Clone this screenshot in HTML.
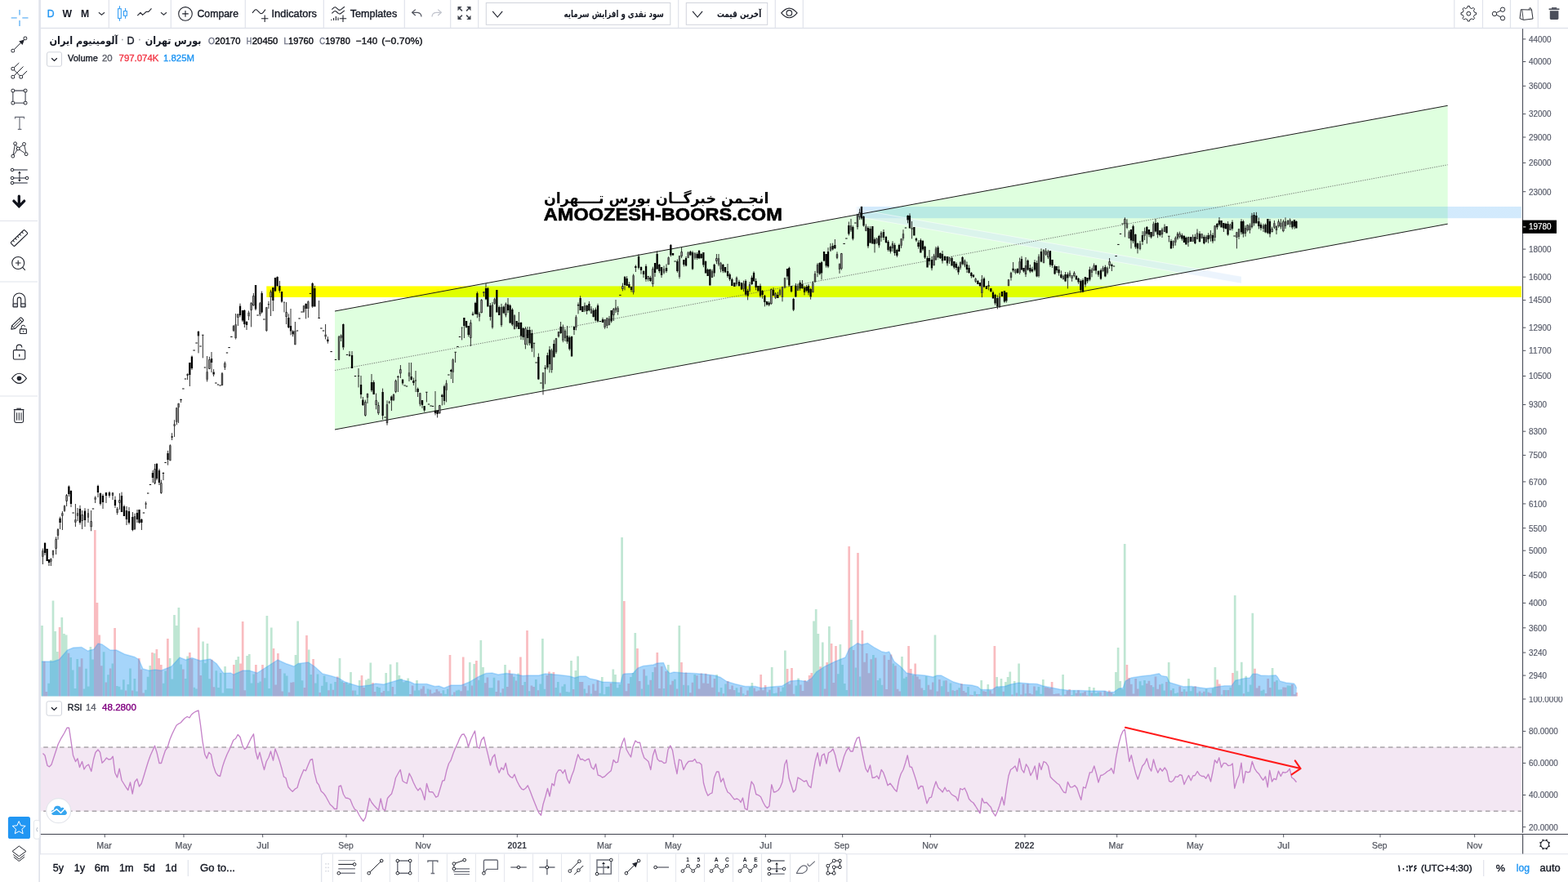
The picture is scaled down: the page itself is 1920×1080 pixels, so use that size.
<!DOCTYPE html>
<html lang="en"><head><meta charset="utf-8"><title>آلومینیوم ایران - Chart</title>
<style>html,body{margin:0;padding:0;background:#fff;overflow:hidden}body{width:1920px;height:1080px;font-family:"Liberation Sans",sans-serif}svg{display:block;will-change:transform}text{font-family:"Liberation Sans",sans-serif}</style></head><body>
<svg width="1920" height="1080" viewBox="0 0 1920 1080">
<rect width="1920" height="1080" fill="#fff"/>
<g id="main-pane">
<rect x="326.3" y="350.4" width="1536.5" height="13.6" fill="#ffff00"/>
<polygon points="410,381 1772.7,129.3 1772.7,274.2 410,526" fill="rgba(0,255,0,0.125)"/>
<defs><linearGradient id="bl" x1="0" x2="1"><stop offset="0" stop-color="rgba(33,150,243,0)"/><stop offset="0.012" stop-color="rgba(33,150,243,0.2)"/><stop offset="1" stop-color="rgba(33,150,243,0.2)"/></linearGradient></defs>
<rect x="1047" y="253" width="815.8" height="14.2" fill="url(#bl)"/>
<polygon points="1056,257.5 1520,338.4 1520,347 1056,266.5" fill="rgba(215,232,250,0.48)"/>
<path d="M1056 257.5L1520 338.4M1056 266.5L1520 347" stroke="rgba(255,255,255,0.55)" stroke-width="1" fill="none"/>
<path d="M410 381L1772.7 129.3M410 526L1772.7 274.2" stroke="#1a1a1a" stroke-width="1.0" fill="none"/>
<path d="M410 453.5L1772.7 201.8" stroke="#5a5a5a" stroke-width="0.8" stroke-dasharray="1.3 1.4" fill="none"/>
<g id="volume"><path d="M50.15 766.0h2.70V852.5h-2.70zM58.25 836.7h2.70V852.5h-2.70zM60.95 808.2h2.70V852.5h-2.70zM63.65 735.5h2.70V852.5h-2.70zM66.35 773.0h2.70V852.5h-2.70zM69.05 798.0h2.70V852.5h-2.70zM74.45 756.0h2.70V852.5h-2.70zM77.15 776.0h2.70V852.5h-2.70zM79.85 777.5h2.70V852.5h-2.70zM85.25 804.9h2.70V852.5h-2.70zM87.95 820.6h2.70V852.5h-2.70zM90.65 843.1h2.70V852.5h-2.70zM93.35 807.0h2.70V852.5h-2.70zM101.45 843.5h2.70V852.5h-2.70zM104.15 818.7h2.70V852.5h-2.70zM106.85 840.5h2.70V852.5h-2.70zM109.55 792.0h2.70V852.5h-2.70zM112.25 807.5h2.70V852.5h-2.70zM125.75 798.3h2.70V852.5h-2.70zM131.15 826.2h2.70V852.5h-2.70zM136.55 812.4h2.70V852.5h-2.70zM141.95 840.1h2.70V852.5h-2.70zM144.65 840.7h2.70V852.5h-2.70zM147.35 844.5h2.70V852.5h-2.70zM150.05 832.3h2.70V852.5h-2.70zM155.45 837.9h2.70V852.5h-2.70zM158.15 818.6h2.70V852.5h-2.70zM163.55 831.1h2.70V852.5h-2.70zM166.25 846.4h2.70V852.5h-2.70zM177.05 844.7h2.70V852.5h-2.70zM179.75 828.7h2.70V852.5h-2.70zM182.45 815.0h2.70V852.5h-2.70zM187.85 800.0h2.70V852.5h-2.70zM198.65 836.7h2.70V852.5h-2.70zM201.35 821.6h2.70V852.5h-2.70zM206.75 806.0h2.70V852.5h-2.70zM209.45 831.4h2.70V852.5h-2.70zM212.15 753.0h2.70V852.5h-2.70zM214.85 766.0h2.70V852.5h-2.70zM217.55 744.0h2.70V852.5h-2.70zM220.25 813.6h2.70V852.5h-2.70zM225.65 831.0h2.70V852.5h-2.70zM228.35 803.5h2.70V852.5h-2.70zM236.45 841.7h2.70V852.5h-2.70zM239.15 843.4h2.70V852.5h-2.70zM247.25 785.5h2.70V852.5h-2.70zM249.95 812.0h2.70V852.5h-2.70zM252.65 788.0h2.70V852.5h-2.70zM255.35 831.3h2.70V852.5h-2.70zM263.45 821.3h2.70V852.5h-2.70zM266.15 841.9h2.70V852.5h-2.70zM268.85 824.0h2.70V852.5h-2.70zM271.55 848.4h2.70V852.5h-2.70zM274.25 816.0h2.70V852.5h-2.70zM276.95 843.0h2.70V852.5h-2.70zM279.65 843.1h2.70V852.5h-2.70zM282.35 843.3h2.70V852.5h-2.70zM287.75 808.0h2.70V852.5h-2.70zM290.45 804.0h2.70V852.5h-2.70zM301.25 803.0h2.70V852.5h-2.70zM303.95 801.0h2.70V852.5h-2.70zM306.65 836.4h2.70V852.5h-2.70zM309.35 825.6h2.70V852.5h-2.70zM314.75 836.2h2.70V852.5h-2.70zM317.45 834.4h2.70V852.5h-2.70zM322.85 830.2h2.70V852.5h-2.70zM325.55 754.0h2.70V852.5h-2.70zM328.25 842.9h2.70V852.5h-2.70zM330.95 768.5h2.70V852.5h-2.70zM347.15 824.4h2.70V852.5h-2.70zM349.85 827.5h2.70V852.5h-2.70zM360.65 802.0h2.70V852.5h-2.70zM363.35 760.5h2.70V852.5h-2.70zM366.05 812.4h2.70V852.5h-2.70zM368.75 833.3h2.70V852.5h-2.70zM376.85 795.5h2.70V852.5h-2.70zM379.55 826.1h2.70V852.5h-2.70zM384.95 836.4h2.70V852.5h-2.70zM387.65 825.6h2.70V852.5h-2.70zM393.05 839.7h2.70V852.5h-2.70zM395.75 827.4h2.70V852.5h-2.70zM398.45 835.2h2.70V852.5h-2.70zM403.85 837.2h2.70V852.5h-2.70zM409.25 834.9h2.70V852.5h-2.70zM414.65 806.0h2.70V852.5h-2.70zM417.35 834.2h2.70V852.5h-2.70zM422.75 835.7h2.70V852.5h-2.70zM425.45 837.7h2.70V852.5h-2.70zM428.15 823.0h2.70V852.5h-2.70zM433.55 845.6h2.70V852.5h-2.70zM436.25 850.8h2.70V852.5h-2.70zM438.95 833.0h2.70V852.5h-2.70zM447.05 832.5h2.70V852.5h-2.70zM449.75 831.0h2.70V852.5h-2.70zM452.45 811.5h2.70V852.5h-2.70zM460.55 841.0h2.70V852.5h-2.70zM463.25 842.0h2.70V852.5h-2.70zM471.35 824.0h2.70V852.5h-2.70zM474.05 846.2h2.70V852.5h-2.70zM476.75 813.5h2.70V852.5h-2.70zM482.15 850.2h2.70V852.5h-2.70zM484.85 811.0h2.70V852.5h-2.70zM487.55 827.0h2.70V852.5h-2.70zM490.25 831.1h2.70V852.5h-2.70zM492.95 835.2h2.70V852.5h-2.70zM495.65 833.8h2.70V852.5h-2.70zM498.35 830.5h2.70V852.5h-2.70zM506.45 845.4h2.70V852.5h-2.70zM509.15 833.0h2.70V852.5h-2.70zM511.85 845.3h2.70V852.5h-2.70zM522.65 843.4h2.70V852.5h-2.70zM541.55 845.3h2.70V852.5h-2.70zM544.25 849.7h2.70V852.5h-2.70zM546.95 843.4h2.70V852.5h-2.70zM552.35 850.8h2.70V852.5h-2.70zM557.75 845.4h2.70V852.5h-2.70zM560.45 844.7h2.70V852.5h-2.70zM571.25 845.6h2.70V852.5h-2.70zM573.95 811.0h2.70V852.5h-2.70zM579.35 813.0h2.70V852.5h-2.70zM584.75 832.8h2.70V852.5h-2.70zM587.45 784.0h2.70V852.5h-2.70zM590.15 817.0h2.70V852.5h-2.70zM598.25 842.3h2.70V852.5h-2.70zM600.95 842.3h2.70V852.5h-2.70zM603.65 829.8h2.70V852.5h-2.70zM611.75 848.2h2.70V852.5h-2.70zM617.15 814.0h2.70V852.5h-2.70zM627.95 828.7h2.70V852.5h-2.70zM633.35 824.4h2.70V852.5h-2.70zM641.45 835.0h2.70V852.5h-2.70zM646.85 846.3h2.70V852.5h-2.70zM654.95 832.1h2.70V852.5h-2.70zM660.35 837.4h2.70V852.5h-2.70zM663.05 782.0h2.70V852.5h-2.70zM665.75 843.8h2.70V852.5h-2.70zM673.85 824.4h2.70V852.5h-2.70zM679.25 842.1h2.70V852.5h-2.70zM681.95 834.9h2.70V852.5h-2.70zM687.35 840.4h2.70V852.5h-2.70zM690.05 837.7h2.70V852.5h-2.70zM692.75 847.0h2.70V852.5h-2.70zM695.45 847.4h2.70V852.5h-2.70zM698.15 809.0h2.70V852.5h-2.70zM703.55 821.0h2.70V852.5h-2.70zM706.25 803.5h2.70V852.5h-2.70zM714.35 843.6h2.70V852.5h-2.70zM722.45 849.6h2.70V852.5h-2.70zM733.25 848.7h2.70V852.5h-2.70zM735.95 829.0h2.70V852.5h-2.70zM738.65 850.3h2.70V852.5h-2.70zM741.35 841.0h2.70V852.5h-2.70zM744.05 840.8h2.70V852.5h-2.70zM749.45 819.5h2.70V852.5h-2.70zM752.15 826.0h2.70V852.5h-2.70zM754.85 842.3h2.70V852.5h-2.70zM757.55 838.0h2.70V852.5h-2.70zM760.25 658.0h2.70V852.5h-2.70zM771.05 828.9h2.70V852.5h-2.70zM773.75 824.1h2.70V852.5h-2.70zM776.45 775.0h2.70V852.5h-2.70zM784.55 843.4h2.70V852.5h-2.70zM789.95 827.6h2.70V852.5h-2.70zM792.65 838.4h2.70V852.5h-2.70zM798.05 822.9h2.70V852.5h-2.70zM811.55 842.9h2.70V852.5h-2.70zM816.95 814.0h2.70V852.5h-2.70zM825.05 831.7h2.70V852.5h-2.70zM830.45 766.0h2.70V852.5h-2.70zM835.85 838.7h2.70V852.5h-2.70zM841.25 839.2h2.70V852.5h-2.70zM849.35 826.1h2.70V852.5h-2.70zM876.35 826.0h2.70V852.5h-2.70zM881.75 841.9h2.70V852.5h-2.70zM887.15 837.6h2.70V852.5h-2.70zM900.65 842.3h2.70V852.5h-2.70zM903.35 848.1h2.70V852.5h-2.70zM908.75 849.2h2.70V852.5h-2.70zM916.85 841.5h2.70V852.5h-2.70zM919.55 836.0h2.70V852.5h-2.70zM938.45 847.6h2.70V852.5h-2.70zM943.85 817.0h2.70V852.5h-2.70zM946.55 849.1h2.70V852.5h-2.70zM949.25 848.6h2.70V852.5h-2.70zM954.65 846.7h2.70V852.5h-2.70zM957.35 841.4h2.70V852.5h-2.70zM960.05 796.5h2.70V852.5h-2.70zM973.55 839.6h2.70V852.5h-2.70zM976.25 830.5h2.70V852.5h-2.70zM995.15 760.5h2.70V852.5h-2.70zM997.85 746.0h2.70V852.5h-2.70zM1000.55 776.0h2.70V852.5h-2.70zM1005.95 786.5h2.70V852.5h-2.70zM1014.05 767.0h2.70V852.5h-2.70zM1024.85 825.2h2.70V852.5h-2.70zM1027.55 789.0h2.70V852.5h-2.70zM1030.25 814.0h2.70V852.5h-2.70zM1032.95 837.0h2.70V852.5h-2.70zM1035.65 845.0h2.70V852.5h-2.70zM1041.05 759.0h2.70V852.5h-2.70zM1046.45 817.4h2.70V852.5h-2.70zM1051.85 828.4h2.70V852.5h-2.70zM1068.05 802.0h2.70V852.5h-2.70zM1073.45 833.0h2.70V852.5h-2.70zM1076.15 830.4h2.70V852.5h-2.70zM1078.85 838.7h2.70V852.5h-2.70zM1092.35 812.4h2.70V852.5h-2.70zM1103.15 804.0h2.70V852.5h-2.70zM1105.85 830.7h2.70V852.5h-2.70zM1108.55 828.8h2.70V852.5h-2.70zM1116.65 826.7h2.70V852.5h-2.70zM1130.15 845.1h2.70V852.5h-2.70zM1132.85 828.0h2.70V852.5h-2.70zM1143.65 777.5h2.70V852.5h-2.70zM1151.75 840.2h2.70V852.5h-2.70zM1154.45 833.5h2.70V852.5h-2.70zM1162.55 836.6h2.70V852.5h-2.70zM1167.95 845.9h2.70V852.5h-2.70zM1173.35 842.2h2.70V852.5h-2.70zM1184.15 841.1h2.70V852.5h-2.70zM1192.25 846.5h2.70V852.5h-2.70zM1197.65 850.0h2.70V852.5h-2.70zM1200.35 833.0h2.70V852.5h-2.70zM1208.45 838.0h2.70V852.5h-2.70zM1219.25 829.0h2.70V852.5h-2.70zM1221.95 841.8h2.70V852.5h-2.70zM1224.65 831.0h2.70V852.5h-2.70zM1230.05 835.0h2.70V852.5h-2.70zM1232.75 829.0h2.70V852.5h-2.70zM1235.45 822.5h2.70V852.5h-2.70zM1240.85 834.0h2.70V852.5h-2.70zM1246.25 812.5h2.70V852.5h-2.70zM1254.35 849.2h2.70V852.5h-2.70zM1267.85 845.5h2.70V852.5h-2.70zM1270.55 841.0h2.70V852.5h-2.70zM1273.25 849.7h2.70V852.5h-2.70zM1275.95 832.0h2.70V852.5h-2.70zM1300.25 826.0h2.70V852.5h-2.70zM1311.05 851.0h2.70V852.5h-2.70zM1313.75 845.2h2.70V852.5h-2.70zM1321.85 848.8h2.70V852.5h-2.70zM1332.65 841.0h2.70V852.5h-2.70zM1338.05 842.0h2.70V852.5h-2.70zM1340.75 848.9h2.70V852.5h-2.70zM1343.45 847.4h2.70V852.5h-2.70zM1354.25 848.1h2.70V852.5h-2.70zM1362.35 850.1h2.70V852.5h-2.70zM1365.05 823.0h2.70V852.5h-2.70zM1367.75 793.0h2.70V852.5h-2.70zM1370.45 834.0h2.70V852.5h-2.70zM1373.15 843.8h2.70V852.5h-2.70zM1375.85 666.0h2.70V852.5h-2.70zM1394.75 834.3h2.70V852.5h-2.70zM1397.45 839.3h2.70V852.5h-2.70zM1400.15 833.1h2.70V852.5h-2.70zM1410.95 841.3h2.70V852.5h-2.70zM1421.75 837.3h2.70V852.5h-2.70zM1424.45 845.6h2.70V852.5h-2.70zM1429.85 811.0h2.70V852.5h-2.70zM1435.25 843.1h2.70V852.5h-2.70zM1437.95 848.9h2.70V852.5h-2.70zM1440.65 848.2h2.70V852.5h-2.70zM1448.75 844.1h2.70V852.5h-2.70zM1454.15 831.0h2.70V852.5h-2.70zM1456.85 846.2h2.70V852.5h-2.70zM1459.55 841.3h2.70V852.5h-2.70zM1464.95 848.4h2.70V852.5h-2.70zM1470.35 848.6h2.70V852.5h-2.70zM1475.75 843.5h2.70V852.5h-2.70zM1483.85 843.0h2.70V852.5h-2.70zM1486.55 817.0h2.70V852.5h-2.70zM1494.65 850.5h2.70V852.5h-2.70zM1500.05 844.9h2.70V852.5h-2.70zM1505.45 841.7h2.70V852.5h-2.70zM1510.85 729.0h2.70V852.5h-2.70zM1513.55 821.5h2.70V852.5h-2.70zM1516.25 838.7h2.70V852.5h-2.70zM1518.95 810.7h2.70V852.5h-2.70zM1524.35 827.7h2.70V852.5h-2.70zM1527.05 847.2h2.70V852.5h-2.70zM1529.75 838.4h2.70V852.5h-2.70zM1532.45 750.7h2.70V852.5h-2.70zM1543.25 845.8h2.70V852.5h-2.70zM1545.95 844.6h2.70V852.5h-2.70zM1556.75 818.0h2.70V852.5h-2.70zM1562.15 833.0h2.70V852.5h-2.70zM1564.85 844.4h2.70V852.5h-2.70zM1567.55 844.3h2.70V852.5h-2.70zM1575.65 839.5h2.70V852.5h-2.70zM1578.35 839.7h2.70V852.5h-2.70z" fill="#bfe6d3"/>
<path d="M52.85 809.7h2.70V852.5h-2.70zM55.55 847.0h2.70V852.5h-2.70zM71.75 768.0h2.70V852.5h-2.70zM82.55 799.7h2.70V852.5h-2.70zM96.05 816.6h2.70V852.5h-2.70zM98.75 806.3h2.70V852.5h-2.70zM114.95 649.0h2.70V852.5h-2.70zM117.65 738.0h2.70V852.5h-2.70zM120.35 777.5h2.70V852.5h-2.70zM123.05 815.2h2.70V852.5h-2.70zM128.45 835.6h2.70V852.5h-2.70zM133.85 818.5h2.70V852.5h-2.70zM139.25 769.0h2.70V852.5h-2.70zM152.75 845.6h2.70V852.5h-2.70zM160.85 845.6h2.70V852.5h-2.70zM168.95 806.0h2.70V852.5h-2.70zM171.65 819.8h2.70V852.5h-2.70zM174.35 848.4h2.70V852.5h-2.70zM185.15 799.0h2.70V852.5h-2.70zM190.55 795.0h2.70V852.5h-2.70zM193.25 806.0h2.70V852.5h-2.70zM195.95 814.0h2.70V852.5h-2.70zM204.05 782.0h2.70V852.5h-2.70zM222.95 819.6h2.70V852.5h-2.70zM231.05 799.0h2.70V852.5h-2.70zM233.75 806.7h2.70V852.5h-2.70zM241.85 768.5h2.70V852.5h-2.70zM244.55 827.1h2.70V852.5h-2.70zM258.05 807.7h2.70V852.5h-2.70zM260.75 841.3h2.70V852.5h-2.70zM285.05 814.0h2.70V852.5h-2.70zM293.15 812.5h2.70V852.5h-2.70zM295.85 761.0h2.70V852.5h-2.70zM298.55 845.3h2.70V852.5h-2.70zM312.05 814.0h2.70V852.5h-2.70zM320.15 814.0h2.70V852.5h-2.70zM333.65 794.0h2.70V852.5h-2.70zM336.35 838.4h2.70V852.5h-2.70zM339.05 800.0h2.70V852.5h-2.70zM341.75 819.0h2.70V852.5h-2.70zM344.45 846.6h2.70V852.5h-2.70zM352.55 847.8h2.70V852.5h-2.70zM355.25 835.8h2.70V852.5h-2.70zM357.95 835.3h2.70V852.5h-2.70zM371.45 842.0h2.70V852.5h-2.70zM374.15 778.0h2.70V852.5h-2.70zM382.25 807.0h2.70V852.5h-2.70zM390.35 847.9h2.70V852.5h-2.70zM401.15 845.2h2.70V852.5h-2.70zM406.55 844.7h2.70V852.5h-2.70zM411.95 828.4h2.70V852.5h-2.70zM420.05 836.0h2.70V852.5h-2.70zM430.85 845.5h2.70V852.5h-2.70zM441.65 827.0h2.70V852.5h-2.70zM444.35 842.1h2.70V852.5h-2.70zM455.15 836.0h2.70V852.5h-2.70zM457.85 846.9h2.70V852.5h-2.70zM465.95 848.1h2.70V852.5h-2.70zM468.65 845.9h2.70V852.5h-2.70zM479.45 840.9h2.70V852.5h-2.70zM501.05 849.9h2.70V852.5h-2.70zM503.75 839.5h2.70V852.5h-2.70zM514.55 843.6h2.70V852.5h-2.70zM517.25 840.2h2.70V852.5h-2.70zM519.95 849.4h2.70V852.5h-2.70zM525.35 844.6h2.70V852.5h-2.70zM528.05 849.2h2.70V852.5h-2.70zM530.75 847.9h2.70V852.5h-2.70zM533.45 843.9h2.70V852.5h-2.70zM536.15 846.4h2.70V852.5h-2.70zM538.85 848.9h2.70V852.5h-2.70zM549.65 802.0h2.70V852.5h-2.70zM555.05 847.6h2.70V852.5h-2.70zM563.15 846.2h2.70V852.5h-2.70zM565.85 804.5h2.70V852.5h-2.70zM568.55 840.2h2.70V852.5h-2.70zM576.65 839.6h2.70V852.5h-2.70zM582.05 809.0h2.70V852.5h-2.70zM592.85 836.3h2.70V852.5h-2.70zM595.55 829.4h2.70V852.5h-2.70zM606.35 846.9h2.70V852.5h-2.70zM609.05 833.3h2.70V852.5h-2.70zM614.45 843.3h2.70V852.5h-2.70zM619.85 841.0h2.70V852.5h-2.70zM622.55 820.5h2.70V852.5h-2.70zM625.25 825.6h2.70V852.5h-2.70zM630.65 833.4h2.70V852.5h-2.70zM636.05 804.5h2.70V852.5h-2.70zM638.75 839.1h2.70V852.5h-2.70zM644.15 772.0h2.70V852.5h-2.70zM649.55 839.5h2.70V852.5h-2.70zM652.25 841.1h2.70V852.5h-2.70zM657.65 845.2h2.70V852.5h-2.70zM668.45 827.1h2.70V852.5h-2.70zM671.15 822.5h2.70V852.5h-2.70zM676.55 823.0h2.70V852.5h-2.70zM684.65 848.6h2.70V852.5h-2.70zM700.85 843.9h2.70V852.5h-2.70zM708.95 835.1h2.70V852.5h-2.70zM711.65 835.1h2.70V852.5h-2.70zM717.05 848.7h2.70V852.5h-2.70zM719.75 839.2h2.70V852.5h-2.70zM725.15 837.4h2.70V852.5h-2.70zM727.85 845.7h2.70V852.5h-2.70zM730.55 833.3h2.70V852.5h-2.70zM746.75 836.8h2.70V852.5h-2.70zM762.95 736.0h2.70V852.5h-2.70zM765.65 846.2h2.70V852.5h-2.70zM768.35 836.9h2.70V852.5h-2.70zM779.15 794.0h2.70V852.5h-2.70zM781.85 833.9h2.70V852.5h-2.70zM787.25 819.4h2.70V852.5h-2.70zM795.35 832.7h2.70V852.5h-2.70zM800.75 817.1h2.70V852.5h-2.70zM803.45 799.0h2.70V852.5h-2.70zM806.15 843.1h2.70V852.5h-2.70zM808.85 816.0h2.70V852.5h-2.70zM814.25 821.9h2.70V852.5h-2.70zM819.65 838.5h2.70V852.5h-2.70zM822.35 833.7h2.70V852.5h-2.70zM827.75 843.4h2.70V852.5h-2.70zM833.15 811.0h2.70V852.5h-2.70zM838.55 823.6h2.70V852.5h-2.70zM843.95 848.2h2.70V852.5h-2.70zM846.65 835.7h2.70V852.5h-2.70zM852.05 827.2h2.70V852.5h-2.70zM854.75 843.4h2.70V852.5h-2.70zM857.45 824.5h2.70V852.5h-2.70zM860.15 836.4h2.70V852.5h-2.70zM862.85 824.8h2.70V852.5h-2.70zM865.55 837.0h2.70V852.5h-2.70zM868.25 826.7h2.70V852.5h-2.70zM870.95 841.8h2.70V852.5h-2.70zM873.65 831.1h2.70V852.5h-2.70zM879.05 847.5h2.70V852.5h-2.70zM884.45 849.3h2.70V852.5h-2.70zM889.85 834.0h2.70V852.5h-2.70zM892.55 843.9h2.70V852.5h-2.70zM895.25 839.4h2.70V852.5h-2.70zM897.95 845.1h2.70V852.5h-2.70zM906.05 841.2h2.70V852.5h-2.70zM911.45 851.0h2.70V852.5h-2.70zM914.15 845.4h2.70V852.5h-2.70zM922.25 842.6h2.70V852.5h-2.70zM924.95 846.6h2.70V852.5h-2.70zM927.65 845.6h2.70V852.5h-2.70zM930.35 826.0h2.70V852.5h-2.70zM933.05 845.3h2.70V852.5h-2.70zM935.75 839.0h2.70V852.5h-2.70zM941.15 844.8h2.70V852.5h-2.70zM951.95 841.4h2.70V852.5h-2.70zM962.75 819.0h2.70V852.5h-2.70zM965.45 837.7h2.70V852.5h-2.70zM968.15 818.0h2.70V852.5h-2.70zM970.85 849.8h2.70V852.5h-2.70zM978.95 838.5h2.70V852.5h-2.70zM981.65 846.1h2.70V852.5h-2.70zM984.35 832.9h2.70V852.5h-2.70zM987.05 834.8h2.70V852.5h-2.70zM989.75 827.0h2.70V852.5h-2.70zM992.45 824.0h2.70V852.5h-2.70zM1003.25 816.2h2.70V852.5h-2.70zM1008.65 843.5h2.70V852.5h-2.70zM1011.35 811.0h2.70V852.5h-2.70zM1016.75 788.0h2.70V852.5h-2.70zM1019.45 836.1h2.70V852.5h-2.70zM1022.15 791.0h2.70V852.5h-2.70zM1038.35 669.0h2.70V852.5h-2.70zM1043.75 796.0h2.70V852.5h-2.70zM1049.15 677.0h2.70V852.5h-2.70zM1054.55 772.0h2.70V852.5h-2.70zM1057.25 810.7h2.70V852.5h-2.70zM1059.95 800.0h2.70V852.5h-2.70zM1062.65 824.3h2.70V852.5h-2.70zM1065.35 807.3h2.70V852.5h-2.70zM1070.75 805.5h2.70V852.5h-2.70zM1081.55 802.3h2.70V852.5h-2.70zM1084.25 843.9h2.70V852.5h-2.70zM1086.95 808.0h2.70V852.5h-2.70zM1089.65 801.6h2.70V852.5h-2.70zM1095.05 815.3h2.70V852.5h-2.70zM1097.75 843.7h2.70V852.5h-2.70zM1100.45 846.6h2.70V852.5h-2.70zM1111.25 791.0h2.70V852.5h-2.70zM1113.95 819.0h2.70V852.5h-2.70zM1119.35 812.5h2.70V852.5h-2.70zM1122.05 828.4h2.70V852.5h-2.70zM1124.75 831.8h2.70V852.5h-2.70zM1127.45 842.4h2.70V852.5h-2.70zM1135.55 838.7h2.70V852.5h-2.70zM1138.25 844.6h2.70V852.5h-2.70zM1140.95 835.6h2.70V852.5h-2.70zM1146.35 846.5h2.70V852.5h-2.70zM1149.05 832.1h2.70V852.5h-2.70zM1157.15 833.3h2.70V852.5h-2.70zM1159.85 847.3h2.70V852.5h-2.70zM1165.25 845.2h2.70V852.5h-2.70zM1170.65 844.7h2.70V852.5h-2.70zM1176.05 837.0h2.70V852.5h-2.70zM1178.75 846.1h2.70V852.5h-2.70zM1181.45 847.9h2.70V852.5h-2.70zM1186.85 850.7h2.70V852.5h-2.70zM1189.55 850.9h2.70V852.5h-2.70zM1194.95 850.0h2.70V852.5h-2.70zM1203.05 846.3h2.70V852.5h-2.70zM1205.75 847.1h2.70V852.5h-2.70zM1211.15 845.4h2.70V852.5h-2.70zM1213.85 849.4h2.70V852.5h-2.70zM1216.55 791.0h2.70V852.5h-2.70zM1227.35 846.7h2.70V852.5h-2.70zM1238.15 850.4h2.70V852.5h-2.70zM1243.55 848.6h2.70V852.5h-2.70zM1248.95 850.5h2.70V852.5h-2.70zM1251.65 837.5h2.70V852.5h-2.70zM1257.05 837.3h2.70V852.5h-2.70zM1259.75 849.1h2.70V852.5h-2.70zM1262.45 850.2h2.70V852.5h-2.70zM1265.15 840.6h2.70V852.5h-2.70zM1278.65 841.6h2.70V852.5h-2.70zM1281.35 842.1h2.70V852.5h-2.70zM1284.05 842.8h2.70V852.5h-2.70zM1286.75 835.0h2.70V852.5h-2.70zM1289.45 850.0h2.70V852.5h-2.70zM1292.15 849.4h2.70V852.5h-2.70zM1294.85 849.2h2.70V852.5h-2.70zM1297.55 851.4h2.70V852.5h-2.70zM1302.95 850.5h2.70V852.5h-2.70zM1305.65 845.7h2.70V852.5h-2.70zM1308.35 844.0h2.70V852.5h-2.70zM1316.45 848.7h2.70V852.5h-2.70zM1319.15 845.2h2.70V852.5h-2.70zM1324.55 848.4h2.70V852.5h-2.70zM1327.25 846.7h2.70V852.5h-2.70zM1329.95 851.4h2.70V852.5h-2.70zM1335.35 848.5h2.70V852.5h-2.70zM1346.15 847.5h2.70V852.5h-2.70zM1348.85 851.7h2.70V852.5h-2.70zM1351.55 846.3h2.70V852.5h-2.70zM1356.95 845.5h2.70V852.5h-2.70zM1359.65 848.1h2.70V852.5h-2.70zM1378.55 814.0h2.70V852.5h-2.70zM1381.25 830.0h2.70V852.5h-2.70zM1383.95 837.8h2.70V852.5h-2.70zM1386.65 849.5h2.70V852.5h-2.70zM1389.35 830.9h2.70V852.5h-2.70zM1392.05 843.5h2.70V852.5h-2.70zM1402.85 836.9h2.70V852.5h-2.70zM1405.55 833.8h2.70V852.5h-2.70zM1408.25 838.9h2.70V852.5h-2.70zM1413.65 828.4h2.70V852.5h-2.70zM1416.35 843.8h2.70V852.5h-2.70zM1419.05 838.3h2.70V852.5h-2.70zM1427.15 835.1h2.70V852.5h-2.70zM1432.55 845.2h2.70V852.5h-2.70zM1443.35 840.4h2.70V852.5h-2.70zM1446.05 847.0h2.70V852.5h-2.70zM1451.45 846.7h2.70V852.5h-2.70zM1462.25 840.3h2.70V852.5h-2.70zM1467.65 846.6h2.70V852.5h-2.70zM1473.05 846.7h2.70V852.5h-2.70zM1478.45 847.8h2.70V852.5h-2.70zM1481.15 848.8h2.70V852.5h-2.70zM1489.25 832.3h2.70V852.5h-2.70zM1491.95 837.5h2.70V852.5h-2.70zM1497.35 844.9h2.70V852.5h-2.70zM1502.75 845.1h2.70V852.5h-2.70zM1508.15 824.0h2.70V852.5h-2.70zM1521.65 849.2h2.70V852.5h-2.70zM1535.15 818.8h2.70V852.5h-2.70zM1537.85 842.5h2.70V852.5h-2.70zM1540.55 839.7h2.70V852.5h-2.70zM1548.65 849.0h2.70V852.5h-2.70zM1551.35 831.1h2.70V852.5h-2.70zM1554.05 841.9h2.70V852.5h-2.70zM1559.45 834.7h2.70V852.5h-2.70zM1570.25 841.6h2.70V852.5h-2.70zM1572.95 841.7h2.70V852.5h-2.70zM1581.05 838.1h2.70V852.5h-2.70zM1583.75 850.3h2.70V852.5h-2.70zM1586.45 848.0h2.70V852.5h-2.70z" fill="#f9bcc0"/>
<polygon points="51.0,852.5 51.0,810.0 65.0,810.0 72.5,807.5 82.5,796.0 90.0,793.0 100.0,792.5 107.5,797.0 115.0,795.0 120.0,788.0 125.0,789.0 135.0,796.0 142.5,796.0 152.5,801.0 165.0,804.5 170.0,807.5 175.0,819.0 182.5,821.0 190.0,820.0 197.5,821.0 210.0,816.0 220.0,805.0 227.5,808.0 235.0,805.5 245.0,809.0 257.5,807.0 265.0,812.5 273.8,824.5 282.5,824.0 286.0,826.0 297.5,821.0 305.0,821.0 315.0,824.0 327.5,816.0 340.0,808.0 350.0,812.5 360.0,816.0 365.0,812.5 377.5,811.0 385.0,816.0 395.0,825.0 405.0,827.5 415.0,830.5 422.5,835.0 430.0,837.5 440.0,840.5 452.5,839.0 460.0,837.0 470.0,838.0 480.0,835.0 490.0,832.0 502.5,835.0 507.5,837.5 522.5,837.5 532.5,840.5 537.5,840.0 543.8,842.5 552.5,839.0 565.0,839.0 575.0,835.0 585.0,829.0 595.0,824.5 602.5,824.0 610.0,826.0 620.0,824.5 630.0,825.5 640.0,827.5 647.5,827.0 660.0,827.0 667.5,825.0 680.0,826.0 690.0,827.0 697.5,828.0 703.8,830.0 710.0,828.0 717.5,828.0 722.5,831.0 730.0,832.5 737.5,835.0 750.0,835.5 760.0,836.0 762.5,826.0 765.0,825.0 775.0,824.5 781.0,818.0 787.5,815.5 800.0,814.0 805.0,812.0 812.5,811.5 816.0,820.0 820.0,824.5 825.0,823.0 837.5,824.0 850.0,824.5 862.5,825.5 875.0,827.0 882.5,829.5 890.0,834.5 900.0,837.5 912.5,840.5 925.0,840.5 932.5,842.5 945.0,841.0 957.5,840.0 967.5,834.0 977.5,833.0 987.5,834.5 993.8,830.5 1000.0,822.5 1010.0,816.0 1022.5,810.0 1035.0,805.0 1040.0,794.0 1045.0,791.0 1050.0,787.5 1055.0,789.5 1062.5,787.5 1070.0,792.5 1080.0,798.0 1085.0,799.0 1088.8,798.0 1095.0,810.0 1102.5,816.0 1110.0,824.0 1120.0,826.0 1132.5,827.0 1142.5,829.0 1147.5,827.0 1152.5,827.0 1160.0,831.0 1167.5,835.0 1177.5,838.0 1190.0,839.0 1197.5,841.0 1201.3,844.5 1215.0,844.5 1220.0,841.0 1230.0,840.5 1237.5,838.0 1247.5,836.0 1260.0,837.0 1270.0,837.5 1277.5,840.0 1287.5,842.0 1297.5,844.0 1310.0,845.5 1322.5,845.5 1335.0,846.0 1352.5,846.0 1357.5,847.5 1363.8,847.5 1370.0,843.0 1375.0,842.5 1378.0,834.0 1385.0,830.0 1397.5,828.0 1409.0,826.7 1419.3,824.7 1422.2,827.4 1428.9,828.6 1431.9,835.6 1441.5,838.5 1448.9,840.7 1459.3,840.4 1469.6,842.0 1477.0,843.0 1484.4,842.2 1491.9,840.7 1499.3,839.7 1508.1,839.7 1512.6,833.3 1518.5,831.9 1524.4,830.4 1530.4,830.0 1534.0,825.2 1539.3,825.2 1543.7,827.0 1554.0,827.4 1562.2,826.7 1564.4,829.0 1567.4,834.0 1574.8,836.0 1584.4,837.0 1586.4,839.5 1587.7,843.0 1587.7,852.5" fill="rgba(33,150,243,0.40)"/>
<polyline points="51.0,810.0 65.0,810.0 72.5,807.5 82.5,796.0 90.0,793.0 100.0,792.5 107.5,797.0 115.0,795.0 120.0,788.0 125.0,789.0 135.0,796.0 142.5,796.0 152.5,801.0 165.0,804.5 170.0,807.5 175.0,819.0 182.5,821.0 190.0,820.0 197.5,821.0 210.0,816.0 220.0,805.0 227.5,808.0 235.0,805.5 245.0,809.0 257.5,807.0 265.0,812.5 273.8,824.5 282.5,824.0 286.0,826.0 297.5,821.0 305.0,821.0 315.0,824.0 327.5,816.0 340.0,808.0 350.0,812.5 360.0,816.0 365.0,812.5 377.5,811.0 385.0,816.0 395.0,825.0 405.0,827.5 415.0,830.5 422.5,835.0 430.0,837.5 440.0,840.5 452.5,839.0 460.0,837.0 470.0,838.0 480.0,835.0 490.0,832.0 502.5,835.0 507.5,837.5 522.5,837.5 532.5,840.5 537.5,840.0 543.8,842.5 552.5,839.0 565.0,839.0 575.0,835.0 585.0,829.0 595.0,824.5 602.5,824.0 610.0,826.0 620.0,824.5 630.0,825.5 640.0,827.5 647.5,827.0 660.0,827.0 667.5,825.0 680.0,826.0 690.0,827.0 697.5,828.0 703.8,830.0 710.0,828.0 717.5,828.0 722.5,831.0 730.0,832.5 737.5,835.0 750.0,835.5 760.0,836.0 762.5,826.0 765.0,825.0 775.0,824.5 781.0,818.0 787.5,815.5 800.0,814.0 805.0,812.0 812.5,811.5 816.0,820.0 820.0,824.5 825.0,823.0 837.5,824.0 850.0,824.5 862.5,825.5 875.0,827.0 882.5,829.5 890.0,834.5 900.0,837.5 912.5,840.5 925.0,840.5 932.5,842.5 945.0,841.0 957.5,840.0 967.5,834.0 977.5,833.0 987.5,834.5 993.8,830.5 1000.0,822.5 1010.0,816.0 1022.5,810.0 1035.0,805.0 1040.0,794.0 1045.0,791.0 1050.0,787.5 1055.0,789.5 1062.5,787.5 1070.0,792.5 1080.0,798.0 1085.0,799.0 1088.8,798.0 1095.0,810.0 1102.5,816.0 1110.0,824.0 1120.0,826.0 1132.5,827.0 1142.5,829.0 1147.5,827.0 1152.5,827.0 1160.0,831.0 1167.5,835.0 1177.5,838.0 1190.0,839.0 1197.5,841.0 1201.3,844.5 1215.0,844.5 1220.0,841.0 1230.0,840.5 1237.5,838.0 1247.5,836.0 1260.0,837.0 1270.0,837.5 1277.5,840.0 1287.5,842.0 1297.5,844.0 1310.0,845.5 1322.5,845.5 1335.0,846.0 1352.5,846.0 1357.5,847.5 1363.8,847.5 1370.0,843.0 1375.0,842.5 1378.0,834.0 1385.0,830.0 1397.5,828.0 1409.0,826.7 1419.3,824.7 1422.2,827.4 1428.9,828.6 1431.9,835.6 1441.5,838.5 1448.9,840.7 1459.3,840.4 1469.6,842.0 1477.0,843.0 1484.4,842.2 1491.9,840.7 1499.3,839.7 1508.1,839.7 1512.6,833.3 1518.5,831.9 1524.4,830.4 1530.4,830.0 1534.0,825.2 1539.3,825.2 1543.7,827.0 1554.0,827.4 1562.2,826.7 1564.4,829.0 1567.4,834.0 1574.8,836.0 1584.4,837.0 1586.4,839.5 1587.7,843.0" fill="none" stroke="rgba(33,150,243,0.28)" stroke-width="1.4" stroke-linejoin="round"/></g>
<g id="candles"><path d="M52.4 671.6V674.0M52.4 682.0V691.0M55.0 664.0V665.0M55.0 677.0V679.8M60.0 689.0V693.0M62.4 683.4V684.0M62.4 688.0V693.0M65.0 680.0V683.4M68.6 657.4V660.0M68.6 672.0V679.0M71.0 646.9V648.0M71.0 656.0V660.8M73.6 632.7V634.4M73.6 640.0V648.0M76.4 626.0V628.0M76.4 632.0V649.0M79.0 618.4V619.0M79.0 626.0V626.8M81.6 605.0V606.0M81.6 614.0V620.0M84.4 594.4V595.6M84.4 605.0V608.1M87.0 600.3V601.0M87.0 617.0V621.0M92.4 617.0V636.0M92.4 640.0V645.0M95.0 622.0V628.0M95.0 632.0V638.0M98.0 618.8V623.0M98.0 640.0V642.4M100.6 625.0V630.0M100.6 638.0V648.0M104.0 622.2V625.6M104.0 637.0V645.0M108.0 623.0V628.0M108.0 634.0V640.0M111.6 625.0V638.0M111.6 645.6V650.3M116.6 607.5V609.0M116.6 612.0V616.0M120.0 593.6V595.0M120.0 603.0V609.0M123.0 603.3V604.0M123.0 617.0V618.8M126.0 604.8V607.0M126.0 615.0V623.0M130.0 607.0V616.0M134.0 601.7V603.0M134.0 607.0V609.4M138.0 607.0V612.0M141.0 607.6V612.0M141.0 619.0V622.0M143.6 620.9V622.4M143.6 628.4V630.3M146.4 604.0V612.0M146.4 616.0V624.0M149.0 602.6V607.0M152.0 618.3V620.0M155.0 620.0V625.0M155.0 636.0V643.0M158.0 621.1V626.0M158.0 640.0V642.1M162.4 627.0V633.0M162.4 649.0V650.4M165.0 628.7V632.0M165.0 648.0V649.1M168.0 624.0V628.0M168.0 636.0V640.0M170.6 640.0V641.2M173.4 634.9V636.0M173.4 640.0V649.0M178.6 614.2V616.0M178.6 618.0V623.0M187.0 576.0V579.0M187.0 585.0V591.0M189.6 568.0V574.0M189.6 592.0V593.2M192.0 567.0V568.0M192.0 586.0V588.0M195.0 574.0V576.0M195.0 591.0V594.0M197.4 587.6V591.0M197.4 604.0V604.7M200.0 578.2V579.0M200.0 580.0V588.0M205.6 551.8V555.0M205.6 563.0V569.6M208.4 544.2V545.0M210.6 530.2V534.0M210.6 536.0V539.0M213.6 514.2V519.0M213.6 522.0V535.0M216.4 517.0V520.3M218.6 499.0V518.0M221.6 488.4V489.0M221.6 490.0V493.0M229.6 457.3V458.0M229.6 460.0V465.0M232.4 459.0V473.0M235.0 435.4V436.4M235.0 451.0V452.9M243.0 405.0V406.0M243.0 411.6V432.4M248.4 410.7V438.4M253.6 436.0V455.0M253.6 465.0V467.4M256.4 436.8V440.0M259.0 431.0V439.0M259.0 444.0V456.0M261.6 452.1V455.6M261.6 458.4V460.9M272.0 455.8V457.0M275.4 442.7V444.4M275.4 450.0V453.0M286.0 398.0V399.0M286.0 405.0V406.3M288.6 384.0V397.0M288.6 414.4V415.5M291.4 389.0V399.0M294.0 371.6V374.4M294.0 386.0V388.4M297.0 392.4V394.2M299.4 379.1V380.0M299.4 397.0V401.0M302.0 393.0V394.0M302.0 398.0V404.0M304.6 380.5V382.4M304.6 387.6V392.0M307.6 369.8V371.0M307.6 380.0V400.4M310.4 359.0V362.0M310.4 374.4V375.1M313.0 378.4V380.1M318.4 369.9V371.0M318.4 385.4V387.1M320.6 356.6V359.0M320.6 382.4V383.6M326.4 405.4V406.2M329.0 368.8V371.6M329.0 373.6V378.1M331.6 354.8V357.0M331.6 364.4V387.0M334.4 368.0V381.0M337.0 356.4V357.3M339.6 338.4V339.0M339.6 350.0V351.2M342.4 344.0V350.0M342.4 356.0V358.5M345.0 369.4V370.7M348.0 370.7V382.4M350.6 370.0V382.0M350.6 388.4V397.0M353.4 384.3V389.0M353.4 401.0V402.0M356.0 378.0V399.0M356.0 405.4V410.3M358.6 404.3V405.6M358.6 409.6V412.2M361.4 394.0V405.0M372.0 382.0V382.9M374.6 371.4V372.0M374.6 378.0V390.4M377.4 368.2V369.0M377.4 378.4V389.0M382.6 345.9V347.0M382.6 375.4V376.8M385.4 349.8V353.0M390.6 368.0V389.1M398.6 397.0V409.4M398.6 412.6V415.5M401.4 412.2V415.6M401.4 418.0V420.6M415.0 411.0V412.0M417.6 409.4V410.4M417.6 414.0V418.0M420.4 396.3V397.0M420.4 425.6V428.4M428.0 430.0V434.0M428.0 436.0V436.4M431.0 430.0V435.0M439.0 451.0V459.7M439.0 460.7V474.4M442.0 460.0V471.0M442.0 483.0V488.0M444.4 486.0V489.6M444.4 496.0V497.0M447.4 489.6V492.0M447.4 509.0V509.8M450.0 487.0V494.0M455.0 458.0V468.0M455.0 478.0V480.0M457.6 465.7V468.0M460.6 481.6V490.0M460.6 496.4V501.3M463.4 492.4V496.0M463.4 506.4V508.1M468.6 475.6V480.0M468.6 509.0V513.8M474.0 490.4V495.0M474.0 518.4V520.7M476.6 490.8V492.0M476.6 493.6V494.5M479.4 484.4V485.6M479.4 490.4V503.0M482.0 482.1V483.0M482.0 490.0V491.1M484.6 464.7V466.0M484.6 480.0V481.3M487.4 459.7V461.0M487.4 462.0V480.0M490.4 447.0V452.0M490.4 457.6V463.0M493.0 469.6V471.5M501.0 444.0V456.0M501.0 461.0V467.0M503.6 444.0V461.0M503.6 465.0V465.7M506.4 462.5V466.0M506.4 469.0V472.0M509.0 454.0V465.5M509.0 466.5V480.0M511.6 474.5V476.0M511.6 480.0V486.0M514.4 495.0V497.4M517.0 496.0V499.9M519.6 502.4V504.4M522.4 480.7V492.4M533.0 479.0V502.4M533.0 506.0V508.4M535.6 507.0V511.4M538.4 506.0V506.8M541.4 482.4V483.6M541.4 486.0V496.4M544.0 471.4V473.0M544.0 491.0V495.7M546.6 465.4V469.0M546.6 478.0V492.4M552.4 451.8V453.0M552.4 455.0V464.0M554.6 439.1V440.0M554.6 456.0V469.0M557.6 431.7V444.0M565.6 401.7V416.4M568.4 399.0V414.0M571.0 401.0V401.6M573.6 410.0V412.4M576.4 391.6V395.0M576.4 414.0V424.0M579.0 381.7V383.6M582.0 369.7V371.0M582.0 384.4V385.2M584.4 357.1V359.0M584.4 385.0V389.3M587.0 381.9V383.6M587.0 388.0V393.4M589.6 366.2V367.0M592.4 359.4V363.1M595.0 347.0V353.0M595.0 366.4V367.4M597.4 351.7V353.0M600.4 371.1V374.0M600.4 388.0V392.5M603.0 369.9V373.0M603.0 401.4V402.7M605.6 364.6V366.0M605.6 372.0V372.9M611.2 374.3V376.0M614.0 371.9V376.0M614.0 398.4V400.3M616.6 374.4V375.6M616.6 383.6V384.3M619.4 370.4V372.0M619.4 386.0V388.4M622.0 365.0V372.4M622.0 380.0V383.1M624.6 372.6V374.0M624.6 395.4V396.0M627.4 377.2V379.0M627.4 397.4V399.2M630.0 385.2V386.0M632.6 400.0V402.4M635.4 382.0V395.0M638.0 394.3V395.0M638.0 411.4V416.0M640.6 400.9V402.0M640.6 413.0V416.3M643.4 400.1V402.0M643.4 422.4V427.4M646.0 400.0V404.0M646.0 414.0V423.0M648.6 400.1V404.0M648.6 420.4V423.0M651.4 403.7V408.0M651.4 426.4V430.9M654.0 420.7V437.4M659.4 432.6V437.0M659.4 464.4V465.1M665.0 476.0V483.4M667.6 447.2V449.6M667.6 452.0V470.4M670.4 431.8V435.0M670.4 450.0V452.4M673.0 423.9V428.0M673.0 446.0V456.4M675.6 426.9V429.0M675.6 453.4V456.5M678.4 416.3V421.0M681.0 431.0V433.1M684.0 412.4V413.5M686.6 394.0V400.0M686.6 408.0V408.8M689.4 397.5V400.0M689.4 417.4V419.1M692.0 402.9V405.0M692.0 414.0V418.0M694.6 399.0V411.0M694.6 418.4V421.0M697.4 411.0V413.0M697.4 427.4V429.3M700.0 411.4V412.0M703.0 404.0V410.0M705.4 385.8V388.0M705.4 401.4V404.4M708.0 370.5V373.0M708.0 374.4V384.4M710.6 362.2V365.0M716.0 370.5V374.0M716.0 380.0V382.0M718.6 373.3V374.0M718.6 381.0V385.0M721.4 369.0V372.0M721.4 380.0V381.3M724.0 375.0V378.0M726.6 377.6V380.0M726.6 388.0V388.6M729.4 376.6V379.0M729.4 392.4V393.3M732.0 371.8V374.0M732.0 393.4V394.5M738.0 388.8V391.0M740.6 401.4V402.8M743.4 399.4V401.9M746.0 386.9V390.0M748.6 393.4V395.3M751.4 377.2V378.0M751.4 386.0V393.0M754.0 367.0V376.4M754.0 380.0V383.1M756.6 374.9V377.0M756.6 382.4V385.7M762.4 346.6V350.0M762.4 354.4V356.4M765.0 338.0V339.0M765.0 349.0V355.4M767.6 338.2V341.0M770.4 345.2V348.0M770.4 352.0V353.1M773.0 355.0V357.6M775.6 335.5V337.0M775.6 358.4V360.5M778.4 324.4V326.0M778.4 328.0V333.0M782.0 311.3V314.0M782.0 328.0V329.8M785.0 326.3V327.0M785.0 331.0V335.7M788.0 331.1V332.0M788.0 336.0V340.0M791.0 323.6V326.0M791.0 342.0V344.8M793.6 342.0V344.5M796.4 337.8V340.0M796.4 344.0V345.2M799.4 326.7V329.0M799.4 348.4V351.2M802.0 334.0V338.9M804.6 307.3V311.0M804.6 329.4V330.1M807.4 323.1V324.0M807.4 332.0V334.4M810.0 337.0V340.0M813.0 325.5V329.0M813.0 334.0V335.6M816.0 323.4V328.0M816.0 332.0V334.1M818.6 314.3V315.0M821.4 299.0V300.0M821.4 312.4V314.2M824.0 312.4V313.2M829.4 317.6V320.0M829.4 332.0V333.8M832.0 339.4V341.2M834.6 303.0V308.0M834.6 314.0V316.1M837.4 324.0V326.4M840.0 314.0V316.0M840.0 325.4V326.3M842.6 308.0V309.0M845.4 306.8V308.0M845.4 312.4V313.4M848.0 307.2V309.0M848.0 329.4V330.5M851.0 309.0V310.0M851.0 316.0V318.0M853.6 309.0V311.0M853.6 316.0V318.1M856.0 306.0V307.0M856.0 316.4V317.2M858.6 310.2V311.0M858.6 316.0V316.8M861.4 324.4V327.2M864.0 319.1V320.0M866.6 328.7V330.0M869.4 329.1V330.0M872.0 329.9V332.0M874.6 322.9V324.0M874.6 334.4V338.7M877.4 311.0V316.0M877.4 320.0V323.2M880.0 311.0V316.0M880.0 324.0V325.9M882.6 320.8V322.0M882.6 330.0V333.4M885.4 323.1V324.0M885.4 332.0V334.2M888.0 333.4V334.3M891.0 323.0V332.0M891.0 338.0V340.0M893.6 334.3V336.0M893.6 342.0V344.1M896.4 340.3V342.0M902.0 338.5V340.0M902.0 348.0V350.4M905.0 342.7V345.0M905.0 350.0V351.1M908.0 354.4V355.1M910.6 343.6V347.0M910.6 354.0V357.1M913.0 342.1V344.0M913.0 360.4V362.4M915.6 353.8V356.0M915.6 362.4V367.4M918.0 345.1V348.0M918.0 356.0V357.7M920.6 337.5V340.0M920.6 348.0V348.9M923.0 332.3V334.0M925.6 340.9V344.0M925.6 352.0V355.3M931.0 347.4V350.0M931.0 362.4V364.3M933.6 355.1V356.0M933.6 361.0V365.7M936.4 360.9V362.0M936.4 370.0V375.4M939.0 373.0V374.5M941.6 369.0V370.4M941.6 373.6V375.0M944.4 353.3V354.0M944.4 372.4V373.1M947.0 352.2V355.0M949.6 358.0V359.0M949.6 365.0V366.1M952.4 357.5V361.0M955.0 353.8V355.0M955.0 361.0V362.2M958.0 364.4V369.3M961.0 352.4V353.3M964.0 338.4V342.6M966.4 326.6V328.0M966.4 349.4V350.9M969.0 357.0V358.2M971.6 364.8V366.0M971.6 379.4V381.0M974.4 346.9V350.0M974.4 363.4V364.0M977.0 347.3V350.0M979.6 343.3V346.0M979.6 353.4V355.9M982.4 343.0V348.0M982.4 353.0V353.9M985.0 350.0V352.0M985.0 358.0V361.4M987.6 348.9V351.0M987.6 356.0V357.6M990.0 348.0V350.0M990.0 358.4V361.4M992.6 352.7V354.0M992.6 363.4V366.7M995.4 344.2V346.0M998.0 331.9V335.0M998.0 345.4V346.0M1001.0 322.2V324.0M1001.0 334.4V339.2M1003.6 321.3V322.0M1003.6 335.4V336.7M1006.0 319.7V321.0M1006.0 334.4V342.4M1009.0 319.4V320.2M1011.6 325.4V327.6M1014.0 303.2V308.0M1014.0 326.4V328.2M1017.0 297.9V302.0M1017.0 307.0V308.1M1019.6 297.7V301.0M1019.6 305.4V306.6M1022.4 293.0V300.0M1022.4 304.0V305.0M1025.0 308.3V311.0M1025.0 316.0V317.3M1028.0 322.4V323.0M1028.0 330.4V334.9M1030.4 329.4V330.7M1039.4 271.5V276.0M1039.4 286.4V288.4M1042.0 268.0V276.0M1042.0 282.0V283.9M1044.4 276.3V278.0M1044.4 292.4V294.3M1050.0 278.4V280.9M1052.6 255.6V260.0M1052.6 266.0V269.2M1055.0 252.6V253.0M1055.0 267.4V269.2M1057.6 264.1V265.0M1057.6 276.4V277.6M1060.4 274.4V277.0M1063.0 276.9V279.0M1063.0 301.4V303.9M1065.6 277.1V280.0M1065.6 297.4V298.0M1071.0 290.8V293.0M1071.0 299.0V309.4M1073.6 290.9V292.0M1073.6 298.0V298.6M1076.4 287.7V289.0M1076.4 300.4V303.4M1079.0 283.1V285.0M1079.0 291.0V295.9M1082.0 281.0V284.0M1082.0 291.0V293.9M1085.0 288.9V290.0M1085.0 297.0V297.9M1087.6 294.0V296.0M1087.6 306.0V307.9M1090.4 300.7V302.0M1090.4 308.0V310.4M1093.0 295.3V298.0M1093.0 304.0V308.1M1095.6 297.6V300.0M1095.6 310.0V313.0M1098.4 304.6V306.0M1098.4 313.0V314.9M1101.0 298.5V300.0M1103.6 301.0V303.9M1106.0 281.2V286.0M1106.0 292.4V294.5M1111.6 263.3V264.0M1111.6 269.4V273.3M1114.0 261.4V264.0M1116.6 271.0V279.0M1116.6 281.0V292.4M1122.0 290.8V292.0M1122.0 294.4V296.2M1124.6 294.3V297.0M1124.6 302.0V304.6M1127.4 292.1V294.0M1130.0 293.9V295.0M1130.0 305.4V307.2M1132.6 300.8V302.0M1132.6 315.4V317.0M1135.6 313.6V316.0M1138.0 306.0V316.0M1138.0 320.0V324.7M1141.0 314.0V318.0M1141.0 328.4V331.2M1143.6 310.9V313.0M1146.0 302.0V304.0M1146.0 318.4V319.0M1148.6 301.0V303.0M1151.4 309.3V310.0M1151.4 316.0V317.0M1154.0 307.0V311.0M1154.0 319.4V322.6M1157.0 313.0V314.0M1160.0 322.4V325.4M1162.6 320.0V323.0M1165.6 314.1V316.0M1168.4 327.4V329.4M1171.0 321.1V323.0M1171.0 328.0V330.9M1173.6 325.5V327.0M1173.6 333.4V336.4M1176.0 320.3V321.0M1176.0 328.0V330.3M1178.6 313.8V315.0M1178.6 323.4V324.7M1181.4 317.6V319.0M1181.4 325.0V327.2M1184.0 320.5V324.0M1184.0 330.0V334.1M1186.6 324.6V328.0M1186.6 334.0V335.0M1189.4 333.1V334.0M1189.4 338.0V340.5M1192.0 335.8V336.4M1194.6 340.2V341.0M1194.6 345.0V346.1M1197.4 342.9V344.0M1200.0 350.0V351.4M1202.4 337.0V342.0M1202.4 359.4V364.1M1205.0 339.2V341.0M1205.0 351.4V352.1M1210.6 344.0V349.0M1210.6 351.0V355.4M1213.4 357.0V357.8M1216.0 356.3V358.0M1218.6 359.8V361.0M1218.6 371.4V373.7M1221.4 361.4V365.0M1221.4 375.4V378.4M1224.0 358.7V363.0M1224.0 375.4V377.1M1230.0 369.4V370.7M1232.4 368.4V370.5M1238.0 332.7V334.0M1238.0 340.4V343.6M1240.6 321.0V328.4M1240.6 331.6V333.5M1243.4 329.2V330.0M1243.4 334.4V335.7M1246.0 328.3V329.0M1248.6 315.6V320.0M1248.6 334.4V336.0M1251.0 313.7V317.0M1253.6 332.4V333.8M1256.0 315.0V325.0M1256.0 336.4V339.1M1258.6 317.7V319.0M1258.6 330.4V331.4M1261.4 324.0V328.0M1261.4 332.4V334.3M1264.0 326.7V329.6M1264.0 332.4V333.7M1267.0 318.1V321.0M1267.0 330.4V332.3M1269.6 319.2V322.0M1269.6 338.4V339.4M1272.0 311.3V314.0M1272.0 338.4V339.7M1275.0 304.3V308.0M1275.0 320.4V321.2M1278.0 305.2V306.0M1280.6 304.0V307.0M1280.6 312.0V312.9M1283.4 305.9V308.0M1283.4 315.0V317.1M1286.0 324.4V326.9M1288.6 325.0V327.9M1291.6 324.3V326.0M1291.6 335.4V336.2M1294.0 331.0V333.9M1296.6 325.7V330.0M1296.6 334.4V337.6M1299.4 331.4V336.0M1299.4 340.0V341.1M1302.0 336.6V338.0M1304.6 333.0V336.0M1304.6 344.4V345.2M1307.4 333.5V336.0M1307.4 340.4V353.4M1310.0 331.4V334.0M1310.0 338.4V339.6M1312.6 341.4V344.7M1315.4 332.2V334.0M1315.4 338.4V339.5M1318.0 337.0V338.0M1320.6 339.9V341.0M1320.6 345.4V347.7M1323.4 342.2V344.0M1323.4 355.4V358.4M1326.0 341.0V343.0M1326.0 357.4V358.3M1329.0 348.4V351.6M1331.6 344.4V346.8M1334.4 326.6V330.0M1334.4 342.4V344.3M1337.0 327.9V330.0M1337.0 334.4V339.3M1339.6 322.5V325.0M1339.6 331.0V331.7M1342.0 324.1V325.0M1342.0 331.4V335.6M1345.0 331.1V332.0M1345.0 336.4V338.9M1348.0 328.9V331.0M1348.0 341.4V342.6M1350.6 325.7V328.0M1350.6 332.4V333.2M1353.4 324.6V327.0M1353.4 338.4V339.3M1356.0 326.4V328.0M1356.0 334.4V335.9M1358.6 316.0V320.0M1358.6 325.0V329.0M1361.4 322.7V324.0M1361.4 326.0V332.0M1377.4 266.3V268.0M1377.4 274.4V290.4M1380.0 268.3V273.0M1380.0 279.4V280.4M1382.6 282.1V284.0M1385.0 294.4V304.4M1387.6 275.1V277.0M1387.6 295.4V298.0M1390.4 286.3V287.0M1390.4 302.4V304.7M1393.0 297.2V298.0M1393.0 304.4V310.4M1396.0 294.9V298.0M1396.0 305.4V306.4M1399.0 283.1V288.0M1399.0 296.0V300.0M1401.6 278.6V283.0M1401.6 289.0V294.0M1404.4 277.0V278.0M1404.4 286.4V298.4M1407.0 287.4V290.3M1409.6 290.4V292.1M1412.4 271.5V274.0M1415.0 268.0V273.0M1415.0 283.4V284.5M1417.6 272.0V273.0M1417.6 287.4V291.3M1420.4 288.0V289.7M1423.0 278.8V281.0M1423.0 287.4V291.0M1426.0 274.5V278.0M1431.4 289.7V296.4M1434.0 292.8V295.0M1436.6 294.4V295.0M1436.6 301.0V303.8M1439.4 289.4V291.0M1439.4 297.0V300.7M1442.0 284.0V286.0M1442.0 292.0V293.7M1444.6 283.6V286.0M1444.6 290.4V291.9M1447.4 285.8V288.0M1447.4 292.4V294.7M1450.0 287.9V289.0M1452.4 289.7V291.0M1455.0 297.4V302.0M1460.6 287.2V290.0M1463.4 286.7V290.0M1463.4 298.0V299.1M1466.0 280.4V285.0M1469.0 283.2V286.0M1469.0 296.0V296.7M1474.4 287.7V290.0M1474.4 298.0V299.2M1477.0 287.8V290.0M1477.0 296.0V296.9M1479.6 285.3V288.0M1479.6 293.0V297.8M1482.4 282.0V287.0M1482.4 292.0V295.7M1485.0 285.3V288.0M1485.0 295.4V297.9M1487.6 291.4V295.2M1490.4 273.1V274.0M1490.4 278.4V281.1M1493.0 266.0V270.0M1493.0 275.0V277.0M1498.4 279.4V284.0M1501.0 272.8V274.0M1501.0 280.0V280.9M1503.6 271.1V274.0M1503.6 287.4V288.7M1506.4 273.9V275.0M1509.0 269.5V272.0M1509.0 280.0V282.3M1514.4 291.4V304.4M1517.0 290.4V292.9M1520.0 268.3V271.0M1520.0 284.4V287.2M1522.4 269.4V271.0M1522.4 286.4V290.6M1525.0 276.1V279.0M1525.0 286.0V289.6M1527.6 282.4V283.5M1530.4 273.5V276.0M1530.4 282.4V285.8M1533.0 260.8V264.0M1533.0 278.4V279.6M1535.6 260.0V263.0M1535.6 273.4V276.5M1538.4 259.8V264.0M1541.4 266.5V271.0M1541.4 277.0V280.4M1544.0 272.7V275.0M1544.0 279.4V282.2M1547.0 273.9V276.0M1547.0 280.4V284.0M1549.6 273.5V275.0M1549.6 284.4V285.4M1552.4 285.4V286.6M1555.0 268.4V271.0M1555.0 286.4V290.5M1557.6 277.7V280.0M1560.4 269.9V273.0M1560.4 279.0V280.2M1563.0 276.2V277.0M1563.0 282.4V287.0M1565.6 268.5V271.0M1565.6 277.4V278.7M1568.4 268.1V272.4M1568.4 278.0V280.5M1571.4 268.9V271.0M1571.4 283.4V284.3M1574.0 266.3V271.0M1574.0 277.0V280.1M1577.0 269.3V270.0M1577.0 275.0V275.7M1579.6 267.4V269.0M1579.6 275.0V278.2M1582.4 270.2V271.0M1582.4 278.4V280.7M1585.0 277.4V280.5M1587.4 270.2V271.0" stroke="#1a1a1a" stroke-width="0.9" fill="none"/>
<path d="M88.4 628.0h2.4M112.8 623.0h2.4M174.8 628.0h2.4M180.0 604.0h2.4M182.8 593.4h2.4M201.4 566.4h2.4M223.2 476.0h2.4M225.8 464.0h2.4M236.4 429.0h2.4M239.4 420.0h2.4M244.4 424.0h2.4M249.8 450.0h2.4M263.2 469.0h2.4M265.8 471.0h2.4M268.4 472.0h2.4M276.8 432.0h2.4M279.4 425.6h2.4M282.2 412.4h2.4M314.4 386.0h2.4M322.2 391.0h2.4M362.8 405.0h2.4M365.4 390.0h2.4M368.4 382.0h2.4M378.8 359.4h2.4M392.2 402.0h2.4M394.8 405.0h2.4M404.4 430.6h2.4M409.8 440.4h2.4M423.8 434.4h2.4M433.8 460.6h2.4M470.4 511.0h2.4M494.4 472.0h2.4M496.8 473.0h2.4M523.8 495.0h2.4M526.4 497.0h2.4M528.8 497.4h2.4M548.2 459.0h2.4M559.2 424.4h2.4M561.8 412.4h2.4M655.4 444.0h2.4M661.2 469.0h2.4M733.8 393.6h2.4M758.2 361.4h2.4M825.4 320.0h2.4M1032.4 298.4h2.4M1035.2 292.0h2.4M1046.2 273.0h2.4M1107.8 279.0h2.4M1362.8 326.0h2.4M1365.4 313.6h2.4M1368.2 299.4h2.4M1370.8 286.4h2.4M1373.4 274.0h2.4M1510.4 289.0h2.4" stroke="#000" stroke-width="1" fill="none"/>
<path d="M53.9 665.0h2.3V677.0h-2.3zM56.5 672.0h2.3V687.0h-2.3zM58.9 685.0h2.3V689.0h-2.3zM72.4 634.4h2.3V640.0h-2.3zM83.2 595.6h2.3V605.0h-2.3zM85.8 601.0h2.3V617.0h-2.3zM96.8 623.0h2.3V640.0h-2.3zM102.8 625.6h2.3V637.0h-2.3zM118.8 595.0h2.3V603.0h-2.3zM121.8 604.0h2.3V617.0h-2.3zM124.8 607.0h2.3V615.0h-2.3zM128.8 603.0h2.3V607.0h-2.3zM132.8 603.0h2.3V607.0h-2.3zM139.8 612.0h2.3V619.0h-2.3zM147.8 607.0h2.3V627.0h-2.3zM150.8 620.0h2.3V632.0h-2.3zM153.8 625.0h2.3V636.0h-2.3zM156.8 626.0h2.3V640.0h-2.3zM161.2 633.0h2.3V649.0h-2.3zM166.8 628.0h2.3V636.0h-2.3zM169.4 624.0h2.3V640.0h-2.3zM172.2 636.0h2.3V640.0h-2.3zM185.8 579.0h2.3V585.0h-2.3zM190.8 568.0h2.3V586.0h-2.3zM193.8 576.0h2.3V591.0h-2.3zM198.8 579.0h2.3V580.0h-2.3zM204.4 555.0h2.3V563.0h-2.3zM220.4 489.0h2.3V490.0h-2.3zM231.2 444.0h2.3V459.0h-2.3zM233.8 436.4h2.3V451.0h-2.3zM241.8 406.0h2.3V411.6h-2.3zM247.2 409.7h2.3V410.7h-2.3zM257.9 439.0h2.3V444.0h-2.3zM260.5 455.6h2.3V458.4h-2.3zM292.9 374.4h2.3V386.0h-2.3zM295.9 380.0h2.3V392.4h-2.3zM298.2 380.0h2.3V397.0h-2.3zM300.9 394.0h2.3V398.0h-2.3zM311.9 349.0h2.3V378.4h-2.3zM319.5 359.0h2.3V382.4h-2.3zM333.2 352.0h2.3V368.0h-2.3zM335.9 340.0h2.3V356.4h-2.3zM338.5 339.0h2.3V350.0h-2.3zM341.2 350.0h2.3V356.0h-2.3zM343.9 357.0h2.3V369.4h-2.3zM352.2 389.0h2.3V401.0h-2.3zM354.9 399.0h2.3V405.4h-2.3zM357.5 405.6h2.3V409.6h-2.3zM373.5 372.0h2.3V378.0h-2.3zM381.5 347.0h2.3V375.4h-2.3zM384.2 353.0h2.3V375.4h-2.3zM389.5 389.1h2.3V390.1h-2.3zM400.2 415.6h2.3V418.0h-2.3zM419.2 397.0h2.3V425.6h-2.3zM429.9 435.0h2.3V451.0h-2.3zM437.9 459.7h2.3V460.7h-2.3zM440.9 471.0h2.3V483.0h-2.3zM443.2 489.6h2.3V496.0h-2.3zM453.9 468.0h2.3V478.0h-2.3zM456.5 468.0h2.3V483.0h-2.3zM467.5 480.0h2.3V509.0h-2.3zM478.2 485.6h2.3V490.4h-2.3zM486.2 461.0h2.3V462.0h-2.3zM491.9 464.4h2.3V469.6h-2.3zM502.5 461.0h2.3V465.0h-2.3zM505.2 466.0h2.3V469.0h-2.3zM510.5 476.0h2.3V480.0h-2.3zM515.9 490.0h2.3V496.0h-2.3zM518.5 497.0h2.3V502.4h-2.3zM521.2 479.7h2.3V480.7h-2.3zM531.9 502.4h2.3V506.0h-2.3zM534.5 502.4h2.3V507.0h-2.3zM540.2 483.6h2.3V486.0h-2.3zM542.9 473.0h2.3V491.0h-2.3zM551.2 453.0h2.3V455.0h-2.3zM556.5 430.7h2.3V431.7h-2.3zM567.2 389.0h2.3V399.0h-2.3zM569.9 393.0h2.3V401.0h-2.3zM572.5 399.0h2.3V410.0h-2.3zM580.9 371.0h2.3V384.4h-2.3zM583.2 359.0h2.3V385.0h-2.3zM593.9 353.0h2.3V366.4h-2.3zM596.2 353.0h2.3V375.4h-2.3zM599.2 374.0h2.3V388.0h-2.3zM607.2 355.0h2.3V382.4h-2.3zM610.1 376.0h2.3V386.0h-2.3zM615.5 375.6h2.3V383.6h-2.3zM620.9 372.4h2.3V380.0h-2.3zM623.5 374.0h2.3V395.4h-2.3zM626.2 379.0h2.3V397.4h-2.3zM631.5 393.0h2.3V400.0h-2.3zM634.2 395.0h2.3V403.0h-2.3zM636.9 395.0h2.3V411.4h-2.3zM639.5 402.0h2.3V413.0h-2.3zM644.9 404.0h2.3V414.0h-2.3zM647.5 404.0h2.3V420.4h-2.3zM650.2 408.0h2.3V426.4h-2.3zM652.9 419.7h2.3V420.7h-2.3zM658.2 437.0h2.3V464.4h-2.3zM669.2 435.0h2.3V450.0h-2.3zM671.9 428.0h2.3V446.0h-2.3zM677.2 421.0h2.3V437.4h-2.3zM685.5 400.0h2.3V408.0h-2.3zM693.5 411.0h2.3V418.4h-2.3zM696.2 413.0h2.3V427.4h-2.3zM698.9 412.0h2.3V436.4h-2.3zM701.9 400.0h2.3V404.0h-2.3zM706.9 373.0h2.3V374.4h-2.3zM709.5 365.0h2.3V380.0h-2.3zM712.2 375.0h2.3V382.0h-2.3zM717.5 374.0h2.3V381.0h-2.3zM720.2 372.0h2.3V380.0h-2.3zM725.5 380.0h2.3V388.0h-2.3zM728.2 379.0h2.3V392.4h-2.3zM730.9 374.0h2.3V393.4h-2.3zM736.9 391.0h2.3V395.0h-2.3zM747.5 380.0h2.3V393.4h-2.3zM763.9 339.0h2.3V349.0h-2.3zM766.5 341.0h2.3V350.0h-2.3zM769.2 348.0h2.3V352.0h-2.3zM771.9 351.0h2.3V355.0h-2.3zM777.2 326.0h2.3V328.0h-2.3zM780.9 314.0h2.3V328.0h-2.3zM783.9 327.0h2.3V331.0h-2.3zM786.9 332.0h2.3V336.0h-2.3zM789.9 326.0h2.3V342.0h-2.3zM795.2 340.0h2.3V344.0h-2.3zM800.9 322.0h2.3V334.0h-2.3zM803.5 311.0h2.3V329.4h-2.3zM806.2 324.0h2.3V332.0h-2.3zM808.9 327.0h2.3V337.0h-2.3zM814.9 328.0h2.3V332.0h-2.3zM820.2 300.0h2.3V312.4h-2.3zM822.9 310.0h2.3V312.4h-2.3zM828.2 320.0h2.3V332.0h-2.3zM836.2 318.0h2.3V324.0h-2.3zM838.9 316.0h2.3V325.4h-2.3zM844.2 308.0h2.3V312.4h-2.3zM846.9 309.0h2.3V329.4h-2.3zM852.5 311.0h2.3V316.0h-2.3zM854.9 307.0h2.3V316.4h-2.3zM857.5 311.0h2.3V316.0h-2.3zM860.2 309.0h2.3V324.4h-2.3zM862.9 320.0h2.3V334.4h-2.3zM865.5 330.0h2.3V338.0h-2.3zM868.2 330.0h2.3V349.4h-2.3zM873.5 324.0h2.3V334.4h-2.3zM884.2 324.0h2.3V332.0h-2.3zM886.9 327.0h2.3V333.4h-2.3zM889.9 332.0h2.3V338.0h-2.3zM892.5 336.0h2.3V342.0h-2.3zM895.2 342.0h2.3V350.0h-2.3zM898.2 346.0h2.3V351.0h-2.3zM903.9 345.0h2.3V350.0h-2.3zM906.9 346.0h2.3V354.4h-2.3zM911.9 344.0h2.3V360.4h-2.3zM914.5 356.0h2.3V362.4h-2.3zM919.5 340.0h2.3V348.0h-2.3zM921.9 334.0h2.3V344.4h-2.3zM924.5 344.0h2.3V352.0h-2.3zM927.2 350.0h2.3V356.4h-2.3zM929.9 350.0h2.3V362.4h-2.3zM932.5 356.0h2.3V361.0h-2.3zM935.2 362.0h2.3V370.0h-2.3zM937.9 369.0h2.3V373.0h-2.3zM940.5 370.4h2.3V373.6h-2.3zM945.9 355.0h2.3V362.0h-2.3zM951.2 361.0h2.3V365.0h-2.3zM962.9 329.0h2.3V338.4h-2.3zM965.2 328.0h2.3V349.4h-2.3zM967.9 350.0h2.3V357.0h-2.3zM970.5 366.0h2.3V379.4h-2.3zM973.2 350.0h2.3V363.4h-2.3zM978.5 346.0h2.3V353.4h-2.3zM981.2 348.0h2.3V353.0h-2.3zM983.9 352.0h2.3V358.0h-2.3zM986.5 351.0h2.3V356.0h-2.3zM988.9 350.0h2.3V358.4h-2.3zM991.5 354.0h2.3V363.4h-2.3zM1002.5 322.0h2.3V335.4h-2.3zM1004.9 321.0h2.3V334.4h-2.3zM1007.9 308.0h2.3V319.4h-2.3zM1010.5 311.0h2.3V325.4h-2.3zM1012.9 308.0h2.3V326.4h-2.3zM1018.5 301.0h2.3V305.4h-2.3zM1021.2 300.0h2.3V304.0h-2.3zM1038.2 276.0h2.3V286.4h-2.3zM1043.2 278.0h2.3V292.4h-2.3zM1053.8 253.0h2.3V267.4h-2.3zM1056.4 265.0h2.3V276.4h-2.3zM1061.8 279.0h2.3V301.4h-2.3zM1064.4 280.0h2.3V297.4h-2.3zM1067.2 277.0h2.3V298.4h-2.3zM1069.8 293.0h2.3V299.0h-2.3zM1075.2 289.0h2.3V300.4h-2.3zM1080.8 284.0h2.3V291.0h-2.3zM1083.8 290.0h2.3V297.0h-2.3zM1086.4 296.0h2.3V306.0h-2.3zM1089.2 302.0h2.3V308.0h-2.3zM1094.4 300.0h2.3V310.0h-2.3zM1097.2 306.0h2.3V313.0h-2.3zM1099.8 300.0h2.3V308.0h-2.3zM1110.4 264.0h2.3V269.4h-2.3zM1112.8 264.0h2.3V279.4h-2.3zM1118.2 278.0h2.3V288.4h-2.3zM1120.8 292.0h2.3V294.4h-2.3zM1123.4 297.0h2.3V302.0h-2.3zM1126.2 294.0h2.3V309.4h-2.3zM1128.8 295.0h2.3V305.4h-2.3zM1131.4 302.0h2.3V315.4h-2.3zM1134.4 316.0h2.3V327.4h-2.3zM1136.8 316.0h2.3V320.0h-2.3zM1139.8 318.0h2.3V328.4h-2.3zM1147.4 303.0h2.3V315.4h-2.3zM1150.2 310.0h2.3V316.0h-2.3zM1152.8 311.0h2.3V319.4h-2.3zM1155.8 314.0h2.3V319.0h-2.3zM1158.8 314.0h2.3V322.4h-2.3zM1164.4 316.0h2.3V325.4h-2.3zM1167.2 320.0h2.3V327.4h-2.3zM1169.8 323.0h2.3V328.0h-2.3zM1172.4 327.0h2.3V333.4h-2.3zM1177.4 315.0h2.3V323.4h-2.3zM1182.8 324.0h2.3V330.0h-2.3zM1185.4 328.0h2.3V334.0h-2.3zM1188.2 334.0h2.3V338.0h-2.3zM1190.8 336.4h2.3V339.6h-2.3zM1196.2 344.0h2.3V348.0h-2.3zM1198.8 346.0h2.3V350.0h-2.3zM1203.8 341.0h2.3V351.4h-2.3zM1206.8 350.0h2.3V354.0h-2.3zM1212.2 353.0h2.3V357.0h-2.3zM1214.8 358.0h2.3V365.4h-2.3zM1217.4 361.0h2.3V371.4h-2.3zM1220.2 365.0h2.3V375.4h-2.3zM1225.8 357.0h2.3V363.0h-2.3zM1228.8 356.0h2.3V369.4h-2.3zM1231.2 358.0h2.3V368.4h-2.3zM1239.4 328.4h2.3V331.6h-2.3zM1244.8 329.0h2.3V334.4h-2.3zM1249.8 317.0h2.3V330.4h-2.3zM1252.4 328.0h2.3V332.4h-2.3zM1257.4 319.0h2.3V330.4h-2.3zM1260.2 328.0h2.3V332.4h-2.3zM1262.8 329.6h2.3V332.4h-2.3zM1265.8 321.0h2.3V330.4h-2.3zM1268.4 322.0h2.3V338.4h-2.3zM1273.8 308.0h2.3V320.4h-2.3zM1284.8 307.0h2.3V324.4h-2.3zM1287.4 318.0h2.3V325.0h-2.3zM1290.4 326.0h2.3V335.4h-2.3zM1292.8 326.0h2.3V331.0h-2.3zM1295.4 330.0h2.3V334.4h-2.3zM1298.2 336.0h2.3V340.0h-2.3zM1303.4 336.0h2.3V344.4h-2.3zM1306.2 336.0h2.3V340.4h-2.3zM1316.8 338.0h2.3V342.4h-2.3zM1319.4 341.0h2.3V345.4h-2.3zM1322.2 344.0h2.3V355.4h-2.3zM1324.8 343.0h2.3V357.4h-2.3zM1327.8 339.0h2.3V348.4h-2.3zM1330.4 340.0h2.3V344.4h-2.3zM1333.2 330.0h2.3V342.4h-2.3zM1340.8 325.0h2.3V331.4h-2.3zM1343.8 332.0h2.3V336.4h-2.3zM1346.8 331.0h2.3V341.4h-2.3zM1352.2 327.0h2.3V338.4h-2.3zM1360.2 324.0h2.3V326.0h-2.3zM1383.8 281.0h2.3V294.4h-2.3zM1386.4 277.0h2.3V295.4h-2.3zM1389.2 287.0h2.3V302.4h-2.3zM1391.8 298.0h2.3V304.4h-2.3zM1397.8 288.0h2.3V296.0h-2.3zM1403.2 278.0h2.3V286.4h-2.3zM1405.8 281.0h2.3V287.4h-2.3zM1408.4 284.0h2.3V290.4h-2.3zM1413.8 273.0h2.3V283.4h-2.3zM1416.4 273.0h2.3V287.4h-2.3zM1419.2 282.0h2.3V288.0h-2.3zM1427.4 277.0h2.3V285.4h-2.3zM1430.2 288.7h2.3V289.7h-2.3zM1432.8 295.0h2.3V304.4h-2.3zM1446.2 288.0h2.3V292.4h-2.3zM1448.8 289.0h2.3V297.0h-2.3zM1451.2 291.0h2.3V299.4h-2.3zM1456.8 290.0h2.3V296.0h-2.3zM1462.2 290.0h2.3V298.0h-2.3zM1467.8 286.0h2.3V296.0h-2.3zM1473.2 290.0h2.3V298.0h-2.3zM1478.4 288.0h2.3V293.0h-2.3zM1483.8 288.0h2.3V295.4h-2.3zM1489.2 274.0h2.3V278.4h-2.3zM1491.8 270.0h2.3V275.0h-2.3zM1494.4 270.0h2.3V278.4h-2.3zM1497.2 273.0h2.3V279.4h-2.3zM1499.8 274.0h2.3V280.0h-2.3zM1502.4 274.0h2.3V287.4h-2.3zM1507.8 272.0h2.3V280.0h-2.3zM1518.8 271.0h2.3V284.4h-2.3zM1521.2 271.0h2.3V286.4h-2.3zM1534.4 263.0h2.3V273.4h-2.3zM1537.2 264.0h2.3V273.4h-2.3zM1540.2 271.0h2.3V277.0h-2.3zM1542.8 275.0h2.3V279.4h-2.3zM1548.4 275.0h2.3V284.4h-2.3zM1551.2 268.0h2.3V285.4h-2.3zM1553.8 271.0h2.3V286.4h-2.3zM1581.2 271.0h2.3V278.4h-2.3zM1583.8 269.0h2.3V277.4h-2.3zM1586.2 271.0h2.3V279.4h-2.3z" fill="#000"/>
<path d="M67.9 660.5h1.4V671.5h-1.4zM70.3 648.5h1.4V655.5h-1.4zM80.9 606.5h1.4V613.5h-1.4zM99.9 630.5h1.4V637.5h-1.4zM110.9 638.5h1.4V645.1h-1.4zM137.3 603.5h1.4V606.5h-1.4zM145.7 612.5h1.4V615.5h-1.4zM164.3 632.5h1.4V647.5h-1.4zM188.9 574.5h1.4V591.5h-1.4zM196.7 591.5h1.4V603.5h-1.4zM209.9 534.5h1.4V535.5h-1.4zM228.9 458.4h1.4V459.6h-1.4zM255.7 440.4h1.4V451.6h-1.4zM271.3 457.4h1.4V471.6h-1.4zM274.7 444.8h1.4V449.6h-1.4zM285.3 399.4h1.4V404.6h-1.4zM290.7 384.8h1.4V388.6h-1.4zM306.9 371.4h1.4V379.6h-1.4zM309.7 362.4h1.4V373.9h-1.4zM330.9 357.4h1.4V363.9h-1.4zM349.9 382.4h1.4V387.9h-1.4zM427.3 434.4h1.4V435.6h-1.4zM446.7 492.4h1.4V508.6h-1.4zM449.3 482.1h1.4V486.6h-1.4zM459.9 490.4h1.4V495.9h-1.4zM462.7 496.4h1.4V505.9h-1.4zM473.3 495.4h1.4V517.9h-1.4zM481.3 483.4h1.4V489.6h-1.4zM483.9 466.4h1.4V479.6h-1.4zM489.7 452.4h1.4V457.2h-1.4zM508.3 465.9h1.4V466.1h-1.4zM537.7 496.4h1.4V505.6h-1.4zM575.7 395.4h1.4V413.6h-1.4zM578.3 384.1h1.4V385.9h-1.4zM588.9 367.4h1.4V382.9h-1.4zM613.3 376.4h1.4V397.9h-1.4zM618.7 372.4h1.4V385.6h-1.4zM642.7 402.4h1.4V421.9h-1.4zM666.9 450.1h1.4V451.6h-1.4zM680.3 414.4h1.4V430.6h-1.4zM683.3 406.4h1.4V411.9h-1.4zM691.3 405.4h1.4V413.6h-1.4zM750.7 378.4h1.4V385.6h-1.4zM761.7 350.4h1.4V353.9h-1.4zM792.9 338.4h1.4V341.6h-1.4zM798.7 329.4h1.4V347.9h-1.4zM833.9 308.4h1.4V313.6h-1.4zM871.3 332.4h1.4V339.6h-1.4zM876.7 316.4h1.4V319.6h-1.4zM901.3 340.4h1.4V347.6h-1.4zM943.7 354.4h1.4V371.9h-1.4zM997.3 335.4h1.4V344.9h-1.4zM1000.3 324.4h1.4V333.9h-1.4zM1024.3 311.4h1.4V315.6h-1.4zM1029.7 310.4h1.4V328.9h-1.4zM1049.3 262.4h1.4V277.9h-1.4zM1051.9 260.4h1.4V265.6h-1.4zM1078.3 285.4h1.4V290.6h-1.4zM1092.3 298.4h1.4V303.6h-1.4zM1209.9 349.4h1.4V350.6h-1.4zM1237.3 334.4h1.4V339.9h-1.4zM1255.3 325.4h1.4V335.9h-1.4zM1282.7 308.4h1.4V314.6h-1.4zM1314.7 334.4h1.4V337.9h-1.4zM1338.9 325.4h1.4V330.6h-1.4zM1357.9 320.4h1.4V324.6h-1.4zM1376.7 268.4h1.4V273.9h-1.4zM1422.3 281.4h1.4V286.9h-1.4zM1425.3 278.4h1.4V283.6h-1.4zM1441.3 286.4h1.4V291.6h-1.4zM1443.9 286.4h1.4V289.9h-1.4zM1454.3 290.4h1.4V296.9h-1.4zM1476.3 290.4h1.4V295.6h-1.4zM1524.3 279.4h1.4V285.6h-1.4zM1532.3 264.4h1.4V277.9h-1.4zM1546.3 276.4h1.4V279.9h-1.4zM1556.9 280.4h1.4V283.9h-1.4zM1562.3 277.4h1.4V281.9h-1.4zM1564.9 271.4h1.4V276.9h-1.4zM1570.7 271.4h1.4V282.9h-1.4zM1573.3 271.4h1.4V276.6h-1.4zM1576.3 270.4h1.4V274.6h-1.4z" fill="#fff" stroke="#000" stroke-width="0.9"/>
<path d="M51.7 674.5h1.4V681.5h-1.4zM61.7 684.5h1.4V687.5h-1.4zM64.3 674.1h1.4V679.5h-1.4zM75.7 628.5h1.4V631.5h-1.4zM78.3 619.5h1.4V625.5h-1.4zM91.7 636.5h1.4V639.5h-1.4zM94.3 628.5h1.4V631.5h-1.4zM107.3 628.5h1.4V633.5h-1.4zM115.9 609.5h1.4V611.5h-1.4zM142.9 622.9h1.4V627.9h-1.4zM177.9 616.5h1.4V617.5h-1.4zM207.7 545.5h1.4V563.9h-1.4zM212.9 519.5h1.4V521.5h-1.4zM215.7 499.4h1.4V516.5h-1.4zM217.9 494.1h1.4V498.6h-1.4zM252.9 455.4h1.4V464.6h-1.4zM287.9 397.4h1.4V413.9h-1.4zM303.9 382.8h1.4V387.2h-1.4zM317.7 371.4h1.4V384.9h-1.4zM325.7 376.4h1.4V404.9h-1.4zM328.3 372.1h1.4V373.2h-1.4zM347.3 370.1h1.4V370.2h-1.4zM360.7 405.4h1.4V421.9h-1.4zM371.3 374.4h1.4V381.6h-1.4zM376.7 369.4h1.4V377.9h-1.4zM397.9 409.8h1.4V412.2h-1.4zM414.3 412.4h1.4V440.6h-1.4zM416.9 410.8h1.4V413.6h-1.4zM475.9 492.4h1.4V493.2h-1.4zM500.3 456.4h1.4V460.6h-1.4zM513.7 481.4h1.4V494.6h-1.4zM545.9 469.4h1.4V477.6h-1.4zM553.9 440.4h1.4V455.6h-1.4zM564.9 401.1h1.4V401.2h-1.4zM586.3 384.1h1.4V387.6h-1.4zM591.7 357.4h1.4V358.9h-1.4zM602.3 373.4h1.4V400.9h-1.4zM604.9 366.4h1.4V371.6h-1.4zM629.3 386.4h1.4V402.9h-1.4zM664.3 456.4h1.4V475.6h-1.4zM674.9 429.4h1.4V452.9h-1.4zM688.7 400.4h1.4V416.9h-1.4zM704.7 388.4h1.4V400.9h-1.4zM715.3 374.4h1.4V379.6h-1.4zM723.3 378.4h1.4V383.6h-1.4zM739.9 391.4h1.4V400.9h-1.4zM742.7 389.4h1.4V398.9h-1.4zM745.3 390.4h1.4V397.9h-1.4zM753.3 376.8h1.4V379.6h-1.4zM755.9 377.4h1.4V381.9h-1.4zM774.9 337.4h1.4V357.9h-1.4zM812.3 329.4h1.4V333.6h-1.4zM817.9 315.4h1.4V323.9h-1.4zM831.3 313.4h1.4V338.9h-1.4zM841.9 309.4h1.4V315.6h-1.4zM850.3 310.4h1.4V315.6h-1.4zM879.3 316.4h1.4V323.6h-1.4zM881.9 322.4h1.4V329.6h-1.4zM909.9 347.4h1.4V353.6h-1.4zM917.3 348.4h1.4V355.6h-1.4zM948.9 359.4h1.4V364.6h-1.4zM954.3 355.4h1.4V360.6h-1.4zM957.3 351.4h1.4V363.9h-1.4zM960.3 340.4h1.4V351.9h-1.4zM976.3 350.4h1.4V355.6h-1.4zM994.7 346.4h1.4V357.9h-1.4zM1016.3 302.4h1.4V306.6h-1.4zM1027.3 323.4h1.4V329.9h-1.4zM1041.3 276.4h1.4V281.6h-1.4zM1059.7 277.4h1.4V282.6h-1.4zM1072.9 292.4h1.4V297.6h-1.4zM1102.9 292.4h1.4V300.6h-1.4zM1105.3 286.4h1.4V291.9h-1.4zM1115.9 279.4h1.4V280.6h-1.4zM1142.9 313.4h1.4V324.9h-1.4zM1145.3 304.4h1.4V317.9h-1.4zM1161.9 315.4h1.4V319.6h-1.4zM1175.3 321.4h1.4V327.6h-1.4zM1180.7 319.4h1.4V324.6h-1.4zM1193.9 341.4h1.4V344.6h-1.4zM1201.7 342.4h1.4V358.9h-1.4zM1223.3 363.4h1.4V374.9h-1.4zM1234.3 342.4h1.4V349.9h-1.4zM1242.7 330.4h1.4V333.9h-1.4zM1247.9 320.4h1.4V333.9h-1.4zM1271.3 314.4h1.4V337.9h-1.4zM1277.3 306.4h1.4V321.9h-1.4zM1279.9 307.4h1.4V311.6h-1.4zM1301.3 338.4h1.4V341.9h-1.4zM1309.3 334.4h1.4V337.9h-1.4zM1311.9 337.4h1.4V340.9h-1.4zM1336.3 330.4h1.4V333.9h-1.4zM1349.9 328.4h1.4V331.9h-1.4zM1355.3 328.4h1.4V333.9h-1.4zM1379.3 273.4h1.4V278.9h-1.4zM1381.9 284.4h1.4V291.6h-1.4zM1395.3 298.4h1.4V304.9h-1.4zM1400.9 283.4h1.4V288.6h-1.4zM1411.7 274.4h1.4V288.9h-1.4zM1435.9 295.4h1.4V300.6h-1.4zM1438.7 291.4h1.4V296.6h-1.4zM1459.9 290.4h1.4V295.6h-1.4zM1465.3 285.4h1.4V292.6h-1.4zM1470.9 286.4h1.4V291.6h-1.4zM1481.7 287.4h1.4V291.6h-1.4zM1486.9 276.4h1.4V290.9h-1.4zM1505.7 275.4h1.4V281.6h-1.4zM1513.7 284.4h1.4V290.9h-1.4zM1516.3 280.4h1.4V289.9h-1.4zM1526.9 275.4h1.4V281.9h-1.4zM1529.7 276.4h1.4V281.9h-1.4zM1559.7 273.4h1.4V278.6h-1.4zM1567.7 272.8h1.4V277.6h-1.4zM1578.9 269.4h1.4V274.6h-1.4z" fill="#8e8e8e" stroke="#1c1c1c" stroke-width="0.8"/></g>
<text x="803.7" y="249.3" font-size="18" fill="#000" text-anchor="middle" font-weight="bold" direction="rtl" textLength="275.5" lengthAdjust="spacingAndGlyphs" style="font-family:'DejaVu Sans',sans-serif">انجـمن خبرگــان بورس تــــهران</text>
<text x="665.8" y="269.5" font-size="21.40" fill="#000" text-anchor="start" font-weight="bold" textLength="292" lengthAdjust="spacingAndGlyphs" stroke="#000" stroke-width="0.6">AMOOZESH-BOORS.COM</text>
</g>
<g id="rsi-pane">
<rect x="49.9" y="915" width="1812.9" height="78.3" fill="rgba(128,0,128,0.095)"/>
<path d="M49.9 915H1862.8M49.9 993.3H1862.8" stroke="#a9a4a9" stroke-width="1.5" stroke-dasharray="5.6 4.32" stroke-dashoffset="-3.3" fill="none"/>
<polyline points="52.5,922.5 55.0,925.0 58.0,937.5 60.5,938.8 63.0,936.2 67.5,922.5 71.2,911.2 75.0,903.8 78.8,897.5 82.0,891.2 84.5,891.2 87.0,907.5 89.5,925.0 92.5,932.5 95.0,928.8 97.5,939.5 100.5,932.5 103.0,942.0 105.5,938.0 108.5,936.2 111.8,944.5 114.5,930.0 117.0,921.2 120.0,918.0 122.5,921.2 125.0,934.2 128.0,931.2 130.5,928.0 133.0,930.0 135.8,929.5 138.2,926.2 140.8,946.2 143.5,952.0 146.2,941.2 149.0,955.5 151.8,960.0 154.2,963.8 156.8,967.5 159.5,958.0 162.2,972.0 165.0,957.5 167.8,953.8 170.5,963.0 173.2,959.5 176.2,950.0 178.8,941.2 181.5,932.5 184.2,925.0 187.0,918.8 189.5,913.2 192.0,921.2 195.0,934.5 197.5,934.5 200.0,926.2 202.5,918.8 205.0,915.5 208.0,905.5 210.8,898.8 213.8,892.5 216.2,888.0 218.8,886.2 221.2,885.0 223.8,882.0 226.2,879.5 229.2,877.5 232.0,878.8 234.5,875.0 237.5,872.5 240.0,871.2 243.0,870.0 245.5,887.5 248.0,907.5 250.8,923.8 253.2,928.8 255.8,921.2 258.5,923.8 261.2,937.5 264.2,946.2 266.8,949.5 269.5,950.5 272.5,938.8 275.0,931.2 278.0,923.8 280.8,918.0 283.2,912.5 285.8,906.2 288.5,904.5 291.2,899.5 294.0,902.5 296.8,912.5 299.5,917.5 302.0,915.5 304.5,910.0 307.5,903.8 310.5,898.8 313.0,920.0 315.5,929.5 318.0,921.2 320.8,932.5 323.5,942.5 326.2,932.5 329.0,927.5 331.5,920.0 334.5,931.2 337.0,917.0 340.0,925.0 342.5,932.5 345.0,941.2 347.5,951.2 350.0,952.5 353.0,963.8 355.8,967.0 358.2,969.2 361.2,966.2 364.0,964.5 366.8,955.0 369.5,948.2 372.0,942.5 374.5,943.8 377.5,936.2 380.0,930.5 382.5,929.5 385.0,946.2 388.0,958.0 390.5,961.2 393.2,968.8 396.0,971.2 398.8,975.0 401.5,980.0 404.2,985.0 407.0,987.5 409.5,990.5 412.5,990.5 415.0,963.0 417.5,962.0 420.5,972.5 423.2,977.0 426.2,977.5 428.8,978.8 431.8,986.2 434.5,991.2 437.0,992.5 439.5,997.5 442.2,1002.0 445.0,1005.5 447.5,1001.2 450.0,990.0 452.5,977.5 455.0,982.5 458.0,986.2 461.0,989.5 463.5,992.0 466.2,978.0 469.0,990.5 471.5,992.5 474.5,977.5 477.0,974.5 479.5,972.0 482.0,963.8 484.5,952.5 487.5,947.0 490.2,942.5 493.0,956.2 495.5,958.0 498.2,959.2 501.2,947.0 503.8,952.0 506.2,958.0 509.0,963.8 511.8,968.0 514.5,965.0 517.0,969.5 520.0,979.5 522.5,959.5 525.5,969.5 530.0,970.0 533.8,976.2 536.2,975.0 538.8,966.2 541.8,956.2 544.2,955.5 546.8,943.8 549.5,935.0 552.0,931.2 555.0,922.5 557.5,916.2 560.5,910.0 563.0,903.8 565.5,899.5 568.0,898.8 570.8,903.8 573.5,914.5 576.2,906.2 579.0,900.0 581.5,895.0 584.2,914.5 587.0,916.2 589.5,906.2 592.5,902.5 595.0,913.8 598.0,926.2 600.5,937.0 603.0,927.5 605.8,923.8 608.5,938.8 611.2,946.2 614.0,940.0 616.5,942.5 619.2,934.5 622.0,947.5 625.0,951.2 627.5,952.5 630.0,948.2 633.0,956.2 636.2,962.5 638.8,966.2 641.2,967.0 643.8,965.0 646.2,961.8 649.2,968.8 652.0,976.2 655.0,983.8 657.5,990.0 660.0,995.5 662.5,998.2 665.0,985.0 668.0,975.0 670.5,965.5 673.0,975.0 676.0,959.5 678.5,962.0 681.2,947.5 684.0,943.0 686.8,943.0 689.2,947.0 691.8,942.5 694.5,953.8 697.2,959.2 700.0,950.0 702.5,943.8 705.0,933.8 707.8,923.8 710.8,930.0 713.2,929.5 716.2,931.8 718.8,930.0 721.2,929.2 724.2,939.5 727.0,942.0 729.5,935.5 732.2,949.2 735.0,950.0 737.5,952.0 740.5,950.8 743.8,947.5 748.2,943.8 751.2,930.5 754.0,933.8 756.5,933.2 759.2,918.8 762.0,909.5 764.5,903.8 767.0,917.5 770.0,923.0 772.5,927.0 775.0,914.5 778.0,907.0 780.8,909.2 783.5,909.2 786.2,920.5 788.8,928.0 791.2,930.0 794.0,932.5 796.8,942.5 799.5,925.0 802.0,917.5 805.0,929.5 807.5,932.0 810.0,932.0 813.0,934.5 815.5,933.8 818.0,918.0 820.8,913.0 823.5,918.8 826.2,934.5 829.0,947.5 831.5,930.0 834.2,931.2 837.0,942.5 840.0,936.2 843.0,932.5 845.8,931.8 848.2,932.0 850.8,929.5 853.2,933.8 856.2,933.8 859.0,936.2 861.5,958.8 864.2,968.2 866.8,974.2 869.5,972.0 872.0,970.8 874.5,952.5 877.5,945.0 880.0,945.0 882.8,957.5 885.5,953.0 888.2,963.2 891.0,970.0 893.8,971.8 896.8,975.8 899.2,978.8 902.5,978.0 905.0,979.5 907.0,982.5 909.5,977.0 912.2,990.0 915.0,991.8 917.5,971.2 920.2,957.0 923.0,961.2 925.8,972.5 929.0,973.8 931.5,975.8 934.5,982.5 937.0,987.0 939.5,989.5 942.0,987.0 944.8,960.8 947.5,970.0 950.0,969.5 953.0,967.5 955.5,963.8 958.0,957.5 960.8,936.2 963.2,930.5 966.0,952.5 968.8,961.2 971.5,970.0 974.2,967.0 977.0,952.0 980.0,953.8 984.5,957.0 987.5,955.8 990.0,962.0 993.0,964.5 995.8,946.2 998.5,931.2 1001.2,921.8 1004.0,938.0 1006.5,925.0 1009.2,923.0 1012.0,935.0 1014.5,921.8 1017.5,920.0 1020.0,917.0 1022.8,925.0 1025.5,938.0 1028.0,945.0 1030.8,936.2 1033.5,926.2 1036.2,919.5 1039.0,915.5 1041.5,920.0 1044.2,920.0 1047.0,910.0 1049.5,903.8 1052.0,902.5 1054.5,915.0 1057.5,930.0 1060.0,941.2 1062.5,945.5 1065.5,937.0 1068.2,952.5 1071.2,952.0 1073.8,950.0 1076.2,953.8 1079.2,942.5 1081.8,946.2 1084.5,953.8 1087.0,961.8 1090.0,959.2 1092.5,962.5 1095.0,966.2 1098.0,969.2 1100.8,955.0 1103.2,947.5 1106.0,942.5 1108.8,933.8 1111.2,925.0 1114.0,938.8 1116.5,939.5 1119.2,947.5 1122.0,956.2 1124.5,966.2 1127.5,962.5 1130.0,963.0 1132.5,973.8 1135.0,983.8 1138.0,977.0 1140.5,976.2 1143.2,965.5 1146.0,957.0 1148.8,964.5 1151.5,967.0 1154.2,970.0 1157.0,964.2 1159.5,968.8 1162.0,968.0 1165.0,972.5 1167.5,974.2 1170.5,975.8 1173.0,980.8 1175.8,965.5 1178.5,967.0 1181.2,965.0 1183.8,970.5 1186.5,978.2 1189.2,981.2 1191.8,983.0 1194.5,987.0 1197.5,991.8 1200.0,995.8 1202.5,977.5 1205.0,983.0 1208.0,982.5 1210.8,985.8 1213.2,988.2 1216.0,995.0 1218.8,999.2 1221.5,993.2 1224.0,986.2 1227.0,975.8 1229.5,985.8 1232.5,965.0 1235.0,950.0 1237.5,942.5 1240.0,940.8 1243.0,938.0 1245.5,944.5 1248.2,928.8 1251.0,942.0 1253.8,946.2 1256.5,935.8 1259.2,940.0 1262.0,949.5 1264.5,945.0 1267.2,938.0 1270.0,954.5 1272.5,934.5 1275.0,942.5 1278.0,932.5 1280.8,933.8 1283.5,938.0 1286.2,951.2 1289.0,954.2 1291.8,956.8 1294.5,959.2 1297.0,960.8 1300.0,966.2 1302.5,970.0 1305.0,970.8 1307.5,957.5 1310.5,963.8 1313.2,963.8 1316.0,961.8 1318.8,965.0 1321.2,972.5 1323.8,979.5 1326.5,963.8 1329.2,965.0 1332.0,955.0 1334.5,945.8 1337.0,945.8 1339.8,938.0 1342.5,947.5 1345.0,958.0 1347.8,949.5 1350.5,948.8 1353.2,947.0 1356.0,944.5 1358.8,943.2 1360.8,940.8 1363.7,947.2 1366.7,926.7 1369.7,911.7 1372.5,900.8 1375.0,895.3 1377.2,893.3 1380.0,913.3 1382.8,932.5 1385.3,924.7 1388.0,936.7 1390.8,947.5 1393.3,954.2 1396.2,945.8 1398.8,938.0 1401.7,934.7 1404.3,928.8 1407.0,939.2 1409.7,944.2 1412.5,930.0 1415.0,939.2 1417.8,946.3 1420.5,940.8 1423.3,944.2 1426.2,940.0 1428.8,943.8 1431.7,956.7 1434.2,957.5 1436.7,955.8 1439.5,950.8 1442.2,951.3 1444.7,948.7 1447.2,949.5 1450.0,960.5 1452.7,954.7 1455.5,949.5 1458.3,955.8 1460.8,950.0 1463.3,949.5 1466.2,944.5 1468.8,948.7 1471.7,950.5 1474.2,950.5 1476.7,953.3 1479.5,948.0 1482.5,957.0 1485.0,945.0 1487.5,930.8 1490.3,934.2 1492.8,927.8 1495.5,939.7 1498.3,934.5 1501.2,934.7 1503.8,937.5 1506.7,937.2 1509.2,935.0 1511.7,965.3 1514.5,955.3 1517.2,949.5 1520.0,934.2 1522.5,958.7 1525.3,944.5 1528.0,945.8 1530.5,945.0 1533.3,932.5 1536.2,940.8 1538.8,945.0 1541.7,947.8 1544.2,952.0 1546.7,955.3 1549.5,950.8 1552.2,963.8 1554.7,943.3 1557.5,957.0 1560.0,953.3 1562.7,954.7 1565.5,944.2 1568.3,950.5 1570.8,945.5 1573.7,946.2 1576.3,945.0 1579.2,941.3 1581.7,952.0 1584.2,953.8 1587.5,957.8" fill="none" stroke="#c583c9" stroke-width="1.35" stroke-linejoin="round"/>
<path d="M1378 890.8L1592.3 941.1M1585.8 931.3L1592.5 941.2L1581.7 948.3" stroke="#ff1a1a" stroke-width="2.1" fill="none" stroke-linecap="round" stroke-linejoin="round"/>
</g>
<g id="legend">
<text x="102.4" y="53.6" font-size="12.6" fill="#131722" text-anchor="middle" font-weight="bold" direction="rtl" textLength="84" lengthAdjust="spacingAndGlyphs" style="font-family:'DejaVu Sans',sans-serif">آلومینیوم ایران</text>
<text x="148.1" y="52.3" font-size="11.00" fill="#9a9da6" text-anchor="start" font-weight="normal" stroke="#9a9da6" stroke-width="0.36" >·</text>
<text x="155.5" y="53.5" font-size="12.60" fill="#131722" text-anchor="start" font-weight="normal" stroke="#131722" stroke-width="0.36" >D</text>
<text x="169.0" y="52.3" font-size="11.00" fill="#9a9da6" text-anchor="start" font-weight="normal" stroke="#9a9da6" stroke-width="0.36" >·</text>
<text x="212" y="53.6" font-size="12.6" fill="#131722" text-anchor="middle" font-weight="bold" direction="rtl" textLength="68.7" lengthAdjust="spacingAndGlyphs" style="font-family:'DejaVu Sans',sans-serif">بورس تهران</text>
<text x="255.1" y="53.7" font-size="11.80" fill="#6f7386" text-anchor="start" font-weight="normal" stroke="#6f7386" stroke-width="0.40"  textLength="8.0" lengthAdjust="spacingAndGlyphs">O</text>
<text x="263.2" y="53.7" font-size="11.80" fill="#0c0e15" text-anchor="start" font-weight="normal" stroke="#0c0e15" stroke-width="0.42"  textLength="31.3" lengthAdjust="spacingAndGlyphs">20170</text>
<text x="301.8" y="53.7" font-size="11.80" fill="#6f7386" text-anchor="start" font-weight="normal" stroke="#6f7386" stroke-width="0.40"  textLength="6.5" lengthAdjust="spacingAndGlyphs">H</text>
<text x="308.8" y="53.7" font-size="11.80" fill="#0c0e15" text-anchor="start" font-weight="normal" stroke="#0c0e15" stroke-width="0.42"  textLength="31.6" lengthAdjust="spacingAndGlyphs">20450</text>
<text x="347.4" y="53.7" font-size="11.80" fill="#6f7386" text-anchor="start" font-weight="normal" stroke="#6f7386" stroke-width="0.40"  textLength="5.4" lengthAdjust="spacingAndGlyphs">L</text>
<text x="353.0" y="53.7" font-size="11.80" fill="#0c0e15" text-anchor="start" font-weight="normal" stroke="#0c0e15" stroke-width="0.42"  textLength="31.0" lengthAdjust="spacingAndGlyphs">19760</text>
<text x="391.2" y="53.7" font-size="11.80" fill="#6f7386" text-anchor="start" font-weight="normal" stroke="#6f7386" stroke-width="0.40"  textLength="6.8" lengthAdjust="spacingAndGlyphs">C</text>
<text x="398.2" y="53.7" font-size="11.80" fill="#0c0e15" text-anchor="start" font-weight="normal" stroke="#0c0e15" stroke-width="0.42"  textLength="30.6" lengthAdjust="spacingAndGlyphs">19780</text>
<text x="435.9" y="53.7" font-size="11.80" fill="#0c0e15" text-anchor="start" font-weight="normal" stroke="#0c0e15" stroke-width="0.36"  textLength="26.3" lengthAdjust="spacingAndGlyphs">−140</text>
<text x="467.3" y="53.7" font-size="11.80" fill="#0c0e15" text-anchor="start" font-weight="normal" stroke="#0c0e15" stroke-width="0.36"  textLength="50.3" lengthAdjust="spacingAndGlyphs">(−0.70%)</text>
<rect x="57.5" y="63.8" width="18" height="17.4" rx="2.2" fill="#fff" stroke="#d1d4dc" stroke-width="1"/>
<path d="M63.2 71.2l3.3 3.2l3.3-3.2" stroke="#131722" stroke-width="1.2" fill="none"/>
<text x="83.0" y="75.0" font-size="11.40" fill="#131722" text-anchor="start" font-weight="normal" stroke="#131722" stroke-width="0.36" textLength="37" lengthAdjust="spacingAndGlyphs">Volume</text>
<text x="125.0" y="75.0" font-size="11.40" fill="#5d606b" text-anchor="start" font-weight="normal" stroke="#5d606b" stroke-width="0.36" >20</text>
<text x="145.6" y="75.0" font-size="11.40" fill="#f23645" text-anchor="start" font-weight="normal" stroke="#f23645" stroke-width="0.36" textLength="48.8" lengthAdjust="spacingAndGlyphs">797.074K</text>
<text x="200.0" y="75.0" font-size="11.40" fill="#2196f3" text-anchor="start" font-weight="normal" stroke="#2196f3" stroke-width="0.36" textLength="38" lengthAdjust="spacingAndGlyphs">1.825M</text>
<rect x="57" y="858.8" width="18.5" height="17.4" rx="2.2" fill="#fff" stroke="#d1d4dc" stroke-width="1"/>
<path d="M63 866.2l3.3 3.2l3.3-3.2" stroke="#131722" stroke-width="1.2" fill="none"/>
<text x="82.8" y="869.6" font-size="11.40" fill="#131722" text-anchor="start" font-weight="normal" stroke="#131722" stroke-width="0.36"  textLength="17.8" lengthAdjust="spacingAndGlyphs">RSI</text>
<text x="105.0" y="869.6" font-size="11.40" fill="#5d606b" text-anchor="start" font-weight="normal" stroke="#5d606b" stroke-width="0.36" >14</text>
<text x="125.0" y="869.6" font-size="11.40" fill="#800080" text-anchor="start" font-weight="normal" stroke="#800080" stroke-width="0.36" textLength="42" lengthAdjust="spacingAndGlyphs">48.2800</text>
</g>
<g id="price-axis"><defs><clipPath id="rsiclip"><rect x="1860" y="853" width="60" height="40"/></clipPath></defs>
<rect x="1864" y="35" width="56" height="987" fill="#fff"/>
<path d="M1864.5 35V1019.8" stroke="#50535e" stroke-width="1.2"/>
<text x="1872.1" y="51.7" font-size="10.30" fill="#585c6a" text-anchor="start" font-weight="normal" stroke="#585c6a" stroke-width="0.20"  textLength="27.5" lengthAdjust="spacingAndGlyphs">44000</text>
<text x="1872.1" y="79.3" font-size="10.30" fill="#585c6a" text-anchor="start" font-weight="normal" stroke="#585c6a" stroke-width="0.20"  textLength="27.5" lengthAdjust="spacingAndGlyphs">40000</text>
<text x="1872.1" y="109.1" font-size="10.30" fill="#585c6a" text-anchor="start" font-weight="normal" stroke="#585c6a" stroke-width="0.20"  textLength="27.5" lengthAdjust="spacingAndGlyphs">36000</text>
<text x="1872.1" y="143.4" font-size="10.30" fill="#585c6a" text-anchor="start" font-weight="normal" stroke="#585c6a" stroke-width="0.20"  textLength="27.5" lengthAdjust="spacingAndGlyphs">32000</text>
<text x="1872.1" y="171.8" font-size="10.30" fill="#585c6a" text-anchor="start" font-weight="normal" stroke="#585c6a" stroke-width="0.20"  textLength="27.5" lengthAdjust="spacingAndGlyphs">29000</text>
<text x="1872.1" y="203.2" font-size="10.30" fill="#585c6a" text-anchor="start" font-weight="normal" stroke="#585c6a" stroke-width="0.20"  textLength="27.5" lengthAdjust="spacingAndGlyphs">26000</text>
<text x="1872.1" y="238.5" font-size="10.30" fill="#585c6a" text-anchor="start" font-weight="normal" stroke="#585c6a" stroke-width="0.20"  textLength="27.5" lengthAdjust="spacingAndGlyphs">23000</text>
<text x="1872.1" y="308.9" font-size="10.30" fill="#585c6a" text-anchor="start" font-weight="normal" stroke="#585c6a" stroke-width="0.20"  textLength="27.5" lengthAdjust="spacingAndGlyphs">18000</text>
<text x="1872.1" y="343.0" font-size="10.30" fill="#585c6a" text-anchor="start" font-weight="normal" stroke="#585c6a" stroke-width="0.20"  textLength="27.5" lengthAdjust="spacingAndGlyphs">16000</text>
<text x="1872.1" y="371.4" font-size="10.30" fill="#585c6a" text-anchor="start" font-weight="normal" stroke="#585c6a" stroke-width="0.20"  textLength="27.5" lengthAdjust="spacingAndGlyphs">14500</text>
<text x="1872.1" y="405.0" font-size="10.30" fill="#585c6a" text-anchor="start" font-weight="normal" stroke="#585c6a" stroke-width="0.20"  textLength="27.5" lengthAdjust="spacingAndGlyphs">12900</text>
<text x="1872.1" y="433.1" font-size="10.30" fill="#585c6a" text-anchor="start" font-weight="normal" stroke="#585c6a" stroke-width="0.20"  textLength="27.5" lengthAdjust="spacingAndGlyphs">11700</text>
<text x="1872.1" y="464.3" font-size="10.30" fill="#585c6a" text-anchor="start" font-weight="normal" stroke="#585c6a" stroke-width="0.20"  textLength="27.5" lengthAdjust="spacingAndGlyphs">10500</text>
<text x="1872.1" y="499.3" font-size="10.30" fill="#585c6a" text-anchor="start" font-weight="normal" stroke="#585c6a" stroke-width="0.20"  textLength="22.0" lengthAdjust="spacingAndGlyphs">9300</text>
<text x="1872.1" y="532.0" font-size="10.30" fill="#585c6a" text-anchor="start" font-weight="normal" stroke="#585c6a" stroke-width="0.20"  textLength="22.0" lengthAdjust="spacingAndGlyphs">8300</text>
<text x="1872.1" y="561.2" font-size="10.30" fill="#585c6a" text-anchor="start" font-weight="normal" stroke="#585c6a" stroke-width="0.20"  textLength="22.0" lengthAdjust="spacingAndGlyphs">7500</text>
<text x="1872.1" y="593.7" font-size="10.30" fill="#585c6a" text-anchor="start" font-weight="normal" stroke="#585c6a" stroke-width="0.20"  textLength="22.0" lengthAdjust="spacingAndGlyphs">6700</text>
<text x="1872.1" y="620.7" font-size="10.30" fill="#585c6a" text-anchor="start" font-weight="normal" stroke="#585c6a" stroke-width="0.20"  textLength="22.0" lengthAdjust="spacingAndGlyphs">6100</text>
<text x="1872.1" y="650.5" font-size="10.30" fill="#585c6a" text-anchor="start" font-weight="normal" stroke="#585c6a" stroke-width="0.20"  textLength="22.0" lengthAdjust="spacingAndGlyphs">5500</text>
<text x="1872.1" y="678.0" font-size="10.30" fill="#585c6a" text-anchor="start" font-weight="normal" stroke="#585c6a" stroke-width="0.20"  textLength="22.0" lengthAdjust="spacingAndGlyphs">5000</text>
<text x="1872.1" y="708.3" font-size="10.30" fill="#585c6a" text-anchor="start" font-weight="normal" stroke="#585c6a" stroke-width="0.20"  textLength="22.0" lengthAdjust="spacingAndGlyphs">4500</text>
<text x="1872.1" y="742.2" font-size="10.30" fill="#585c6a" text-anchor="start" font-weight="normal" stroke="#585c6a" stroke-width="0.20"  textLength="22.0" lengthAdjust="spacingAndGlyphs">4000</text>
<text x="1872.1" y="772.6" font-size="10.30" fill="#585c6a" text-anchor="start" font-weight="normal" stroke="#585c6a" stroke-width="0.20"  textLength="22.0" lengthAdjust="spacingAndGlyphs">3600</text>
<text x="1872.1" y="802.9" font-size="10.30" fill="#585c6a" text-anchor="start" font-weight="normal" stroke="#585c6a" stroke-width="0.20"  textLength="22.0" lengthAdjust="spacingAndGlyphs">3240</text>
<text x="1872.1" y="830.9" font-size="10.30" fill="#585c6a" text-anchor="start" font-weight="normal" stroke="#585c6a" stroke-width="0.20"  textLength="22.0" lengthAdjust="spacingAndGlyphs">2940</text>
<text x="1872.1" y="859.8" font-size="10.30" fill="#585c6a" text-anchor="start" font-weight="normal" stroke="#585c6a" stroke-width="0.20"  clip-path="url(#rsiclip)" textLength="41.3" lengthAdjust="spacingAndGlyphs">100.0000</text>
<text x="1872.1" y="899.2" font-size="10.30" fill="#585c6a" text-anchor="start" font-weight="normal" stroke="#585c6a" stroke-width="0.20"  textLength="35.8" lengthAdjust="spacingAndGlyphs">80.0000</text>
<text x="1872.1" y="938.2" font-size="10.30" fill="#585c6a" text-anchor="start" font-weight="normal" stroke="#585c6a" stroke-width="0.20"  textLength="35.8" lengthAdjust="spacingAndGlyphs">60.0000</text>
<text x="1872.1" y="977.3" font-size="10.30" fill="#585c6a" text-anchor="start" font-weight="normal" stroke="#585c6a" stroke-width="0.20"  textLength="35.8" lengthAdjust="spacingAndGlyphs">40.0000</text>
<text x="1872.1" y="1016.5" font-size="10.30" fill="#585c6a" text-anchor="start" font-weight="normal" stroke="#585c6a" stroke-width="0.20"  textLength="35.8" lengthAdjust="spacingAndGlyphs">20.0000</text>
<path d="M1865 47.9h3.3M1865 75.5h3.3M1865 105.3h3.3M1865 139.6h3.3M1865 168.0h3.3M1865 199.4h3.3M1865 234.7h3.3M1865 305.1h3.3M1865 339.2h3.3M1865 367.6h3.3M1865 401.2h3.3M1865 429.3h3.3M1865 460.5h3.3M1865 495.5h3.3M1865 528.2h3.3M1865 557.4h3.3M1865 589.9h3.3M1865 616.9h3.3M1865 646.7h3.3M1865 674.2h3.3M1865 704.5h3.3M1865 738.4h3.3M1865 768.8h3.3M1865 799.1h3.3M1865 827.1h3.3M1865 856.0h3.3M1865 895.4h3.3M1865 934.4h3.3M1865 973.5h3.3M1865 1012.7h3.3" stroke="#50535e" stroke-width="1"/>
<rect x="1864" y="269.6" width="42" height="16.2" fill="#000"/>
<path d="M1865 277.9h3.3" stroke="#fff" stroke-width="1"/>
<text x="1872.1" y="281.3" font-size="10.30" fill="#fff" text-anchor="start" font-weight="normal" stroke="#fff" stroke-width="0.20"  textLength="27.5" lengthAdjust="spacingAndGlyphs">19780</text>
</g>
<g id="time-axis">
<rect x="49" y="1022" width="1871" height="24" fill="#fff"/>
<path d="M49 1021.5H1920" stroke="#3f424d" stroke-width="1.1"/>
<path d="M49 1045.8H1920" stroke="#e0e3eb" stroke-width="1.2"/>
<text x="118.3" y="1038.8" font-size="10.40" fill="#555862" text-anchor="start" font-weight="normal" stroke="#555862" stroke-width="0.25"  textLength="18.4" lengthAdjust="spacingAndGlyphs">Mar</text>
<text x="214.5" y="1038.8" font-size="10.40" fill="#555862" text-anchor="start" font-weight="normal" stroke="#555862" stroke-width="0.25"  textLength="20.3" lengthAdjust="spacingAndGlyphs">May</text>
<text x="314.3" y="1038.8" font-size="10.40" fill="#555862" text-anchor="start" font-weight="normal" stroke="#555862" stroke-width="0.25"  textLength="15.0" lengthAdjust="spacingAndGlyphs">Jul</text>
<text x="414.3" y="1038.8" font-size="10.40" fill="#555862" text-anchor="start" font-weight="normal" stroke="#555862" stroke-width="0.25"  textLength="18.4" lengthAdjust="spacingAndGlyphs">Sep</text>
<text x="508.4" y="1038.8" font-size="10.40" fill="#555862" text-anchor="start" font-weight="normal" stroke="#555862" stroke-width="0.25"  textLength="19.2" lengthAdjust="spacingAndGlyphs">Nov</text>
<text x="621.5" y="1038.8" font-size="10.40" fill="#3a3d47" text-anchor="start" font-weight="bold"  textLength="23.5" lengthAdjust="spacingAndGlyphs">2021</text>
<text x="731.0" y="1038.8" font-size="10.40" fill="#555862" text-anchor="start" font-weight="normal" stroke="#555862" stroke-width="0.25"  textLength="18.4" lengthAdjust="spacingAndGlyphs">Mar</text>
<text x="814.1" y="1038.8" font-size="10.40" fill="#555862" text-anchor="start" font-weight="normal" stroke="#555862" stroke-width="0.25"  textLength="20.3" lengthAdjust="spacingAndGlyphs">May</text>
<text x="930.0" y="1038.8" font-size="10.40" fill="#555862" text-anchor="start" font-weight="normal" stroke="#555862" stroke-width="0.25"  textLength="15.0" lengthAdjust="spacingAndGlyphs">Jul</text>
<text x="1021.6" y="1038.8" font-size="10.40" fill="#555862" text-anchor="start" font-weight="normal" stroke="#555862" stroke-width="0.25"  textLength="18.4" lengthAdjust="spacingAndGlyphs">Sep</text>
<text x="1129.2" y="1038.8" font-size="10.40" fill="#555862" text-anchor="start" font-weight="normal" stroke="#555862" stroke-width="0.25"  textLength="19.2" lengthAdjust="spacingAndGlyphs">Nov</text>
<text x="1242.5" y="1038.8" font-size="10.40" fill="#3a3d47" text-anchor="start" font-weight="bold"  textLength="24.0" lengthAdjust="spacingAndGlyphs">2022</text>
<text x="1357.5" y="1038.8" font-size="10.40" fill="#555862" text-anchor="start" font-weight="normal" stroke="#555862" stroke-width="0.25"  textLength="18.4" lengthAdjust="spacingAndGlyphs">Mar</text>
<text x="1453.1" y="1038.8" font-size="10.40" fill="#555862" text-anchor="start" font-weight="normal" stroke="#555862" stroke-width="0.25"  textLength="20.3" lengthAdjust="spacingAndGlyphs">May</text>
<text x="1564.2" y="1038.8" font-size="10.40" fill="#555862" text-anchor="start" font-weight="normal" stroke="#555862" stroke-width="0.25"  textLength="15.0" lengthAdjust="spacingAndGlyphs">Jul</text>
<text x="1680.0" y="1038.8" font-size="10.40" fill="#555862" text-anchor="start" font-weight="normal" stroke="#555862" stroke-width="0.25"  textLength="18.4" lengthAdjust="spacingAndGlyphs">Sep</text>
<text x="1795.9" y="1038.8" font-size="10.40" fill="#555862" text-anchor="start" font-weight="normal" stroke="#555862" stroke-width="0.25"  textLength="19.2" lengthAdjust="spacingAndGlyphs">Nov</text>
<path d="M128.3 1022v3.3M225.0 1022v3.3M321.7 1022v3.3M424.0 1022v3.3M518.3 1022v3.3M633.3 1022v3.3M741.0 1022v3.3M824.3 1022v3.3M937.3 1022v3.3M1031.7 1022v3.3M1139.3 1022v3.3M1255.0 1022v3.3M1367.7 1022v3.3M1464.3 1022v3.3M1571.7 1022v3.3M1690.0 1022v3.3M1805.7 1022v3.3" stroke="#50535e" stroke-width="1"/>
<circle cx="1891.6" cy="1034.0" r="5.0" fill="none" stroke="#20232c" stroke-width="1.1"/><path d="M1896.22 1035.91L1897.79 1036.56M1893.51 1038.62L1894.16 1040.19M1889.69 1038.62L1889.04 1040.19M1886.98 1035.91L1885.41 1036.56M1886.98 1032.09L1885.41 1031.44M1889.69 1029.38L1889.04 1027.81M1893.51 1029.38L1894.16 1027.81M1896.22 1032.09L1897.79 1031.44" stroke="#20232c" stroke-width="1.70" fill="none" />
<path d="M1864.6 1021V1045.5" stroke="#50535e" stroke-width="1.2"/>
</g>
<g id="top-toolbar">
<rect x="49" y="0" width="1871" height="34" fill="#fff"/>
<path d="M49 34.5H1920" stroke="#e0e3eb" stroke-width="1.3"/>
<path d="M133.3 0V34M209.3 0V34M300.3 0V34M396.3 0V34M495.3 0V34M551.7 0V34M585.7 0V34M830.7 0V34M949.3 0V34M983.3 0V34M1780.8 0V34M1815.5 0V34M1849.5 0V34M1883.3 0V34" stroke="#e0e3eb" stroke-width="1.2"/>
<text x="57.7" y="21.2" font-size="12.20" fill="#2196f3" text-anchor="start" font-weight="normal" stroke="#2196f3" stroke-width="0.36" >D</text>
<text x="76.6" y="21.2" font-size="12.20" fill="#131722" text-anchor="start" font-weight="bold" >W</text>
<text x="99.0" y="21.2" font-size="12.20" fill="#131722" text-anchor="start" font-weight="bold" >M</text>
<path d="M120.9 15.2l3.55 3.1l3.55-3.1" stroke="#33363f" stroke-width="1.2" fill="none"/>
<g stroke="#2f9bf4" stroke-width="1.05" fill="none"><path d="M146.5 7.3V10.7M146.5 22.4V25.7M153.5 10.1V13.6M153.5 19.3V22.8"/><rect x="144.6" y="10.7" width="3.7" height="11.7"/><rect x="151.5" y="13.6" width="3.9" height="5.7"/></g>
<path d="M168.30 19.20L172.00 15.40L174.60 18.40L179.20 14.25L181.90 14.45L185.50 10.40" stroke="#2e3038" stroke-width="1.20" fill="none" stroke-linejoin="round"/>
<path d="M197 15.2l3.5 3.1l3.45-3.1" stroke="#33363f" stroke-width="1.2" fill="none"/>
<circle cx="227" cy="16.9" r="8.3" fill="none" stroke="#20232c" stroke-width="1.1"/><path d="M223.2 16.9h7.6M227 13.1v7.6" stroke="#20232c" stroke-width="1.10" fill="none" />
<text x="241.5" y="21.0" font-size="12.30" fill="#131722" text-anchor="start" font-weight="normal" stroke="#131722" stroke-width="0.36" textLength="50.5" lengthAdjust="spacingAndGlyphs">Compare</text>
<path d="M309 15.8L311.5 12.8Q313.3 10.6 315.2 12.8L318.2 15.8Q320.3 17.6 322.1 15.3L325 11.7" stroke="#20232c" stroke-width="1.10" fill="none" stroke-linejoin="round"/><path d="M320 22.7h8.4M324.2 18.5v8.4" stroke="#20232c" stroke-width="1.10" fill="none" />
<text x="332.5" y="21.0" font-size="12.30" fill="#131722" text-anchor="start" font-weight="normal" stroke="#131722" stroke-width="0.36" textLength="55.5" lengthAdjust="spacingAndGlyphs">Indicators</text>
<path d="M406.3 11.7L408.8 9.4Q410.4 8 412.2 9.8L414.2 11.7Q415.8 13 417.6 11.6L421.9 8.2" stroke="#20232c" stroke-width="1.10" fill="none" /><path d="M406.3 16.4L408.8 14.1Q410.4 12.7 412.2 14.5L414.2 16.4Q415.8 17.7 417.6 16.3L421.9 12.9" stroke="#20232c" stroke-width="1.10" fill="none" /><path d="M405.8 25v-1.2M408.6 25v-3M411.4 25v-5M414 25v-3.5" stroke="#20232c" stroke-width="1.10" fill="none" /><path d="M415.8 22.7h8.4M420 18.5v8.4" stroke="#20232c" stroke-width="1.10" fill="none" />
<text x="428.7" y="21.0" font-size="12.30" fill="#131722" text-anchor="start" font-weight="normal" stroke="#131722" stroke-width="0.36" textLength="57.5" lengthAdjust="spacingAndGlyphs">Templates</text>
<path d="M508.8 11.6l-4.2 3.7l4.2 3.7" stroke="#50535e" stroke-width="1.20" fill="none" stroke-linejoin="round"/><path d="M505.0 15.3h6.2q4.6 0.4 4.8 5.3" stroke="#50535e" stroke-width="1.20" fill="none" />
<path d="M536.2 11.6l4.2 3.7l-4.2 3.7" stroke="#c1c4cd" stroke-width="1.20" fill="none" stroke-linejoin="round"/><path d="M540.0 15.3h-6.2q-4.6 0.4 -4.8 5.3" stroke="#c1c4cd" stroke-width="1.20" fill="none" />
<path d="M565.9 13.4L561.5 9.0" stroke="#42464f" stroke-width="1.50" fill="none" /><path d="M560.5 8.0L565.7 8.0L560.5 13.2z" fill="#42464f"/><path d="M571.1 13.4L575.5 9.0" stroke="#42464f" stroke-width="1.50" fill="none" /><path d="M576.5 8.0L571.3 8.0L576.5 13.2z" fill="#42464f"/><path d="M565.9 18.6L561.5 23.0" stroke="#42464f" stroke-width="1.50" fill="none" /><path d="M560.5 24.0L565.7 24.0L560.5 18.8z" fill="#42464f"/><path d="M571.1 18.6L575.5 23.0" stroke="#42464f" stroke-width="1.50" fill="none" /><path d="M576.5 24.0L571.3 24.0L576.5 18.8z" fill="#42464f"/>
<rect x="595.3" y="3.5" width="225.5" height="26.8" fill="#fff" stroke="#d1d4dc" stroke-width="1"/>
<path d="M603.2 13.8l6 7.2l6-7.2" stroke="#131722" stroke-width="1.1" fill="none"/>
<text x="751.7" y="20.6" font-size="11.5" fill="#131722" text-anchor="middle" font-weight="bold" direction="rtl" textLength="122.5" lengthAdjust="spacingAndGlyphs" style="font-family:'DejaVu Sans',sans-serif">سود نقدی و افزایش سرمایه</text>
<rect x="840.3" y="3.5" width="99.4" height="26.8" fill="#fff" stroke="#d1d4dc" stroke-width="1"/>
<path d="M848.1 13.8l6 7.2l6-7.2" stroke="#131722" stroke-width="1.1" fill="none"/>
<text x="905.1" y="20.6" font-size="11.5" fill="#131722" text-anchor="middle" font-weight="bold" direction="rtl" textLength="54.3" lengthAdjust="spacingAndGlyphs" style="font-family:'DejaVu Sans',sans-serif">آخرین قیمت</text>
<path d="M956.7 15.9Q966.4 4.3 976.1 15.9Q966.4 27.5 956.7 15.9z" stroke="#20232c" stroke-width="1.10" fill="none" stroke-linejoin="round"/><circle cx="966.4" cy="15.9" r="3.3" fill="none" stroke="#20232c" stroke-width="1.1"/>
<path d="M1805.42 15.11L1807.52 15.49L1807.52 17.91L1805.42 18.29L1804.46 20.61L1805.67 22.37L1803.97 24.07L1802.21 22.86L1799.89 23.82L1799.51 25.92L1797.09 25.92L1796.71 23.82L1794.39 22.86L1792.63 24.07L1790.93 22.37L1792.14 20.61L1791.18 18.29L1789.08 17.91L1789.08 15.49L1791.18 15.11L1792.14 12.79L1790.93 11.03L1792.63 9.33L1794.39 10.54L1796.71 9.58L1797.09 7.48L1799.51 7.48L1799.89 9.58L1802.21 10.54L1803.97 9.33L1805.67 11.03L1804.46 12.79z" stroke="#20232c" stroke-width="0.95" fill="none" stroke-linejoin="round"/><circle cx="1798.3" cy="16.7" r="2.4" fill="none" stroke="#20232c" stroke-width="1.0"/>
<path d="M1840.00 11.70L1830.00 16.90L1840.00 22.20" stroke="#20232c" stroke-width="0.95" fill="none" /><circle cx="1830.00" cy="16.90" r="2.70" fill="#fff" stroke="#20232c" stroke-width="0.95"/><circle cx="1840.00" cy="11.70" r="2.70" fill="#fff" stroke="#20232c" stroke-width="0.95"/><circle cx="1840.00" cy="22.20" r="2.70" fill="#fff" stroke="#20232c" stroke-width="0.95"/>
<path d="M1862.4 11.7L1871.9 12L1873.6 9.3L1875.5 12L1877 23L1865.5 24.4L1861 22.6z" stroke="#20232c" stroke-width="0.95" fill="none" stroke-linejoin="round"/><path d="M1863.9 12.2L1865.2 24.2M1871.9 12L1875.5 12" stroke="#20232c" stroke-width="0.80" fill="none" stroke-linejoin="round"/>
<path d="M1897.8 13.3h10.6v9.3q0 1.3-1.3 1.3h-8q-1.3 0-1.3-1.3z" fill="#4a4e5a"/><rect x="1896.6" y="10.4" width="12.8" height="1.7" fill="#4a4e5a"/><rect x="1900" y="9.1" width="6.2" height="1.6" fill="#4a4e5a"/>
</g>
<g id="left-toolbar">
<rect x="0" y="0" width="47.3" height="1080" fill="#fff"/>
<rect x="47.3" y="0" width="2.6" height="1080" fill="#e0e3eb"/>
<path d="M0 270.5H46M0 345H46M0 485H46" stroke="#e0e3eb" stroke-width="1.2"/>
<path d="M24 11.9V18.5M24 25.1V32.1M13.7 21.9H20.7M27.3 21.9H34.5" stroke="#8ec8f8" stroke-width="1.90" fill="none" /><path d="M17.20 60.70L29.50 48.30" stroke="#20232c" stroke-width="1.00" fill="none" /><path d="M29.9 48.4L23.2 50.6L27.5 54.9z" fill="#20232c"/><rect x="14.00" y="60.30" width="3.60" height="3.60" rx="1" fill="#fff" stroke="#20232c" stroke-width="1.00"/><rect x="29.10" y="45.10" width="3.60" height="3.60" rx="1" fill="#fff" stroke="#20232c" stroke-width="1.00"/><path d="M15.8 84.2L23.3 77M15.8 84.2L25.7 94.2M15.8 94.2L28.5 81.5M25.7 94.2L33.1 86.9" stroke="#20232c" stroke-width="1.00" fill="none" /><rect x="14.00" y="82.40" width="3.60" height="3.60" rx="1" fill="#fff" stroke="#20232c" stroke-width="1.00"/><rect x="14.00" y="92.40" width="3.60" height="3.60" rx="1" fill="#fff" stroke="#20232c" stroke-width="1.00"/><rect x="23.90" y="92.40" width="3.60" height="3.60" rx="1" fill="#fff" stroke="#20232c" stroke-width="1.00"/><path d="M15.8 111H31.1V126.1H15.8z" stroke="#5f626d" stroke-width="1.30" fill="none" /><rect x="14.00" y="109.20" width="3.60" height="3.60" rx="1" fill="#fff" stroke="#20232c" stroke-width="1.00"/><rect x="29.30" y="109.20" width="3.60" height="3.60" rx="1" fill="#fff" stroke="#20232c" stroke-width="1.00"/><rect x="14.00" y="124.30" width="3.60" height="3.60" rx="1" fill="#fff" stroke="#20232c" stroke-width="1.00"/><rect x="29.30" y="124.30" width="3.60" height="3.60" rx="1" fill="#fff" stroke="#20232c" stroke-width="1.00"/><path d="M18.5 145.4V143.4H29.5V145.4M24 143.4V158.3M21.8 158.4H26.4" stroke="#6a6d78" stroke-width="1.15" fill="none" /><path d="M15.80 191.20L18.60 175.80L22.20 182.00L29.50 176.40L32.10 188.70L22.20 182.00L15.80 191.20" stroke="#20232c" stroke-width="0.90" fill="none" /><circle cx="18.60" cy="175.80" r="1.90" fill="#fff" stroke="#20232c" stroke-width="1.00"/><circle cx="29.50" cy="176.40" r="1.90" fill="#fff" stroke="#20232c" stroke-width="1.00"/><circle cx="22.20" cy="182.00" r="1.90" fill="#fff" stroke="#20232c" stroke-width="1.00"/><circle cx="15.80" cy="191.20" r="1.90" fill="#fff" stroke="#20232c" stroke-width="1.00"/><circle cx="32.10" cy="188.70" r="1.90" fill="#fff" stroke="#20232c" stroke-width="1.00"/><path d="M15 208H33.7M15 218H33M15 224H33.7" stroke="#6a6d78" stroke-width="1.50" fill="none" /><path d="M23.9 211V221.5" stroke="#20232c" stroke-width="1.00" fill="none" /><path d="M23.9 209.6l-1.8 2.6h3.6zM23.9 222.6l-1.8-2.6h3.6z" fill="#20232c"/><circle cx="15.00" cy="208.00" r="1.80" fill="#fff" stroke="#20232c" stroke-width="1.00"/><circle cx="15.00" cy="218.00" r="1.80" fill="#fff" stroke="#20232c" stroke-width="1.00"/><circle cx="15.00" cy="224.00" r="1.80" fill="#fff" stroke="#20232c" stroke-width="1.00"/><circle cx="33.00" cy="218.00" r="1.80" fill="#fff" stroke="#20232c" stroke-width="1.00"/><path d="M23.3 240.2V251.5M16.9 246.1L23.3 252.6L29.7 246.1" stroke="#10131c" stroke-width="3.30" fill="none" stroke-linejoin="miter" stroke-linecap="round"/><g transform="translate(23.5 291.5) rotate(-43.5)"><rect x="-11.6" y="-3.2" width="23.2" height="6.4" rx="1.2" fill="none" stroke="#20232c" stroke-width="1.1"/><path d="M-7.5 -3.2v2.6M-3.7 -3.2v2.6M0 -3.2v2.6M3.7 -3.2v2.6M7.5 -3.2v2.6" stroke="#20232c" stroke-width="1"/></g><circle cx="22.2" cy="322" r="7.5" fill="none" stroke="#20232c" stroke-width="1.1"/><path d="M18.9 322h6.6M22.2 318.7v6.6M27.7 327.4L30.8 330.8" stroke="#20232c" stroke-width="1.10" fill="none" /><path d="M16.2 375.8V366.3a7.35 7.35 0 0 1 14.7 0V375.8H25.7V366.3a2.2 2.2 0 0 0 -4.4 0V375.8z" stroke="#20232c" stroke-width="1.10" fill="none" stroke-linejoin="round"/><path d="M16.2 371.8h5.1v4h-5.1zM25.7 371.8h5.2v4h-5.2z" fill="#d9dbe0" stroke="#20232c" stroke-width="1"/><g transform="translate(20.6 396.7) rotate(-43.5)"><path d="M-9.3 0L-5.8 -2.6H8.2Q9.3 -2.6 9.3 -1.5V1.5Q9.3 2.6 8.2 2.6H-5.8z" fill="none" stroke="#20232c" stroke-width="1.1" stroke-linejoin="round"/><path d="M-5.8 -2.6V2.6M-5.8 0H6.5M6.5 -2.6V2.6" stroke="#20232c" stroke-width="0.9" fill="none"/></g><rect x="24.4" y="402.9" width="8" height="5.6" rx="0.8" fill="#fff" stroke="#20232c" stroke-width="1.1"/><path d="M26.2 402.9V400.6a2.2 2.2 0 0 1 4.4 -0.4" stroke="#20232c" stroke-width="1.00" fill="none" /><rect x="28" y="404.8" width="0.9" height="2" fill="#20232c"/><rect x="16.4" y="428.6" width="14.3" height="11.4" rx="1.4" fill="none" stroke="#20232c" stroke-width="1.1"/><path d="M20.3 428.6V425.4a3.25 3.25 0 0 1 6.5 0V425.6" stroke="#20232c" stroke-width="1.10" fill="none" /><rect x="23.1" y="433.5" width="1.3" height="3.2" rx="0.5" fill="#20232c"/><path d="M14.6 463.3Q23.5 451.2 32.4 463.3Q23.5 475.4 14.6 463.3z" stroke="#20232c" stroke-width="1.10" fill="none" /><circle cx="23.5" cy="463.3" r="2.8" fill="#20232c"/><path d="M17.8 502.2V515.6Q17.8 517.5 19.7 517.5H26.7Q28.6 517.5 28.6 515.6V502.2" stroke="#20232c" stroke-width="1.10" fill="none" /><path d="M16.8 501.6H29.4M20.3 500.3H25.9" stroke="#20232c" stroke-width="1.10" fill="none" /><path d="M20.6 505.3V514.6M23.3 505.3V514.6M26 505.3V514.6" stroke="#20232c" stroke-width="1.00" fill="none" />
<rect x="9.9" y="1000" width="27.1" height="27" rx="2.6" fill="#2196f3"/>
<path d="M23.20 1005.60L25.49 1010.84L31.19 1011.40L26.91 1015.21L28.14 1020.80L23.20 1017.90L18.26 1020.80L19.49 1015.21L15.21 1011.40L20.91 1010.84z" fill="none" stroke="#fff" stroke-width="1.0" stroke-linejoin="round"/>
<path d="M15.1 1042.4L23.3 1036L31.9 1042.4L23.3 1048.6z" stroke="#20232c" stroke-width="1.00" fill="none" stroke-linejoin="round"/><path d="M16.3 1046.4L23.3 1051.9L30.3 1046.4" stroke="#20232c" stroke-width="1.00" fill="none" stroke-linejoin="round"/><path d="M16.8 1049.3L23.3 1054.5L29.9 1049.3" stroke="#20232c" stroke-width="1.00" fill="none" stroke-linejoin="round"/>
<rect x="41.4" y="1004.4" width="7.4" height="22.9" rx="2.6" fill="#fff" stroke="#dcdfe6" stroke-width="0.8"/>
<path d="M45.9 1013.2q-2.4 2.6 0 5.2" stroke="#9aa6b8" stroke-width="0.8" fill="none"/>
</g>
<g id="tv-logo"><circle cx="71.7" cy="992.7" r="15" fill="#fff" stroke="#e4e6ec" stroke-width="1.2"/>
<path d="M65 997.9A3.3 3.3 0 0 1 66 991.5A4.6 4.6 0 0 1 74.9 989.7A2 2 0 0 1 78.5 990L81.5 994A2.5 2.5 0 0 1 79.4 997.9z" fill="#37a6ef"/><path d="M62.3 995.6L69.4 990.8L74.4 995.5L79.4 990.2" stroke="#fff" stroke-width="1.5" fill="none" stroke-linejoin="round"/>
</g>
<g id="bottom-toolbar">
<rect x="49" y="1046.5" width="1871" height="33.5" fill="#fff"/>
<text x="64.8" y="1066.8" font-size="12.30" fill="#131722" text-anchor="start" font-weight="normal" stroke="#131722" stroke-width="0.36" textLength="13.3" lengthAdjust="spacingAndGlyphs">5y</text>
<text x="90.7" y="1066.8" font-size="12.30" fill="#131722" text-anchor="start" font-weight="normal" stroke="#131722" stroke-width="0.36" textLength="13.3" lengthAdjust="spacingAndGlyphs">1y</text>
<text x="115.7" y="1066.8" font-size="12.30" fill="#131722" text-anchor="start" font-weight="normal" stroke="#131722" stroke-width="0.36" textLength="18.0" lengthAdjust="spacingAndGlyphs">6m</text>
<text x="146.0" y="1066.8" font-size="12.30" fill="#131722" text-anchor="start" font-weight="normal" stroke="#131722" stroke-width="0.36" textLength="17.7" lengthAdjust="spacingAndGlyphs">1m</text>
<text x="175.7" y="1066.8" font-size="12.30" fill="#131722" text-anchor="start" font-weight="normal" stroke="#131722" stroke-width="0.36" textLength="14.3" lengthAdjust="spacingAndGlyphs">5d</text>
<text x="202.3" y="1066.8" font-size="12.30" fill="#131722" text-anchor="start" font-weight="normal" stroke="#131722" stroke-width="0.36" textLength="14.4" lengthAdjust="spacingAndGlyphs">1d</text>
<path d="M230.3 1053V1073" stroke="#e0e3eb" stroke-width="1.2"/>
<text x="245.0" y="1066.8" font-size="12.30" fill="#131722" text-anchor="start" font-weight="normal" stroke="#131722" stroke-width="0.36" textLength="43" lengthAdjust="spacingAndGlyphs">Go to...</text>
<text x="1723.1" y="1066.8" font-size="12" fill="#131722" text-anchor="middle" font-weight="bold" textLength="25.3" lengthAdjust="spacingAndGlyphs" style="font-family:'DejaVu Sans',sans-serif">۱۰:۲۶</text>
<text x="1740.0" y="1066.8" font-size="11.80" fill="#131722" text-anchor="start" font-weight="normal" stroke="#131722" stroke-width="0.36"  textLength="62.6" lengthAdjust="spacingAndGlyphs">(UTC+4:30)</text>
<path d="M1816.7 1053V1073" stroke="#e0e3eb" stroke-width="1.2"/>
<text x="1831.8" y="1066.8" font-size="11.80" fill="#131722" text-anchor="start" font-weight="normal" stroke="#131722" stroke-width="0.36"  textLength="11.2" lengthAdjust="spacingAndGlyphs">%</text>
<text x="1856.8" y="1066.8" font-size="12.30" fill="#2196f3" text-anchor="start" font-weight="normal" stroke="#2196f3" stroke-width="0.36"  textLength="16.2" lengthAdjust="spacingAndGlyphs">log</text>
<text x="1885.6" y="1066.8" font-size="12.30" fill="#131722" text-anchor="start" font-weight="normal" stroke="#131722" stroke-width="0.36"  textLength="25.0" lengthAdjust="spacingAndGlyphs">auto</text>
<path d="M393.6 1081V1048.0q0 -3.2 3.2 -3.2H1033.8q3.2 0 3.2 3.2V1081z" fill="#fff" stroke="#e0e3eb" stroke-width="1.3"/><path d="M407.4 1045.4V1080M442.4 1045.4V1080M477.4 1045.4V1080M512.4 1045.4V1080M547.4 1045.4V1080M582.4 1045.4V1080M617.5 1045.4V1080M652.5 1045.4V1080M687.5 1045.4V1080M722.5 1045.4V1080M757.5 1045.4V1080M792.5 1045.4V1080M827.5 1045.4V1080M862.5 1045.4V1080M897.5 1045.4V1080M932.5 1045.4V1080M967.6 1045.4V1080M1002.6 1045.4V1080" stroke="#e6e8ee" stroke-width="1.1"/><rect x="398.3" y="1057.1" width="1.5" height="1.5" fill="#d5d8e0"/><rect x="398.3" y="1061.6" width="1.5" height="1.5" fill="#d5d8e0"/><rect x="398.3" y="1065.9" width="1.5" height="1.5" fill="#d5d8e0"/><rect x="401.3" y="1057.1" width="1.5" height="1.5" fill="#d5d8e0"/><rect x="401.3" y="1061.6" width="1.5" height="1.5" fill="#d5d8e0"/><rect x="401.3" y="1065.9" width="1.5" height="1.5" fill="#d5d8e0"/><path d="M414.3 1053.6H434.9" stroke="#9598a1" stroke-width="0.90" fill="none" /><path d="M414.3 1058.4H434.1" stroke="#20232c" stroke-width="1.10" fill="none" /><path d="M414.3 1063.8H434.9" stroke="#6a6d78" stroke-width="1.20" fill="none" /><path d="M414.8 1069.2H434.9" stroke="#6a6d78" stroke-width="1.30" fill="none" /><circle cx="434.10" cy="1058.40" r="1.80" fill="#fff" stroke="#20232c" stroke-width="1.00"/><circle cx="414.80" cy="1069.20" r="1.80" fill="#fff" stroke="#20232c" stroke-width="1.00"/><path d="M451.70 1069.20L467.20 1054.00" stroke="#20232c" stroke-width="1.00" fill="none" /><circle cx="451.70" cy="1069.20" r="1.80" fill="#fff" stroke="#20232c" stroke-width="1.00"/><circle cx="467.20" cy="1054.00" r="1.80" fill="#fff" stroke="#20232c" stroke-width="1.00"/><path d="M486.8 1054H502.2V1069.2H486.8z" stroke="#6a6d78" stroke-width="1.40" fill="none" /><circle cx="486.80" cy="1054.00" r="1.80" fill="#fff" stroke="#20232c" stroke-width="1.00"/><circle cx="502.20" cy="1054.00" r="1.80" fill="#fff" stroke="#20232c" stroke-width="1.00"/><circle cx="486.80" cy="1069.20" r="1.80" fill="#fff" stroke="#20232c" stroke-width="1.00"/><circle cx="502.20" cy="1069.20" r="1.80" fill="#fff" stroke="#20232c" stroke-width="1.00"/><path d="M523.9 1056V1054H535.9V1056M529.9 1054V1069.4M527.6 1069.5H532.2" stroke="#6a6d78" stroke-width="1.30" fill="none" /><path d="M555.9 1057.6L568.7 1053.1M555.9 1057.6V1063.8" stroke="#20232c" stroke-width="1.00" fill="none" /><path d="M555.9 1063.8H575M555.3 1067.4H575M556 1070.5H575" stroke="#6a6d78" stroke-width="1.20" fill="none" /><circle cx="555.90" cy="1057.60" r="1.80" fill="#fff" stroke="#20232c" stroke-width="1.00"/><circle cx="568.70" cy="1053.10" r="1.80" fill="#fff" stroke="#20232c" stroke-width="1.00"/><circle cx="555.90" cy="1063.80" r="1.80" fill="#fff" stroke="#20232c" stroke-width="1.00"/><path d="M592.4 1069.3V1054.5Q592.4 1053 594 1053H607.9Q609.4 1053 609.4 1054.5V1064.4H596L592.4 1069.3" stroke="#6a6d78" stroke-width="1.40" fill="none" stroke-linejoin="round"/><circle cx="592.40" cy="1069.30" r="1.80" fill="#fff" stroke="#20232c" stroke-width="1.00"/><path d="M625.3 1062H644.7" stroke="#6a6d78" stroke-width="1.40" fill="none" /><circle cx="634.90" cy="1062.00" r="1.80" fill="#fff" stroke="#20232c" stroke-width="1.00"/><path d="M660.3 1062H679.5M669.9 1052.2V1071.3" stroke="#6a6d78" stroke-width="1.40" fill="none" /><circle cx="669.90" cy="1062.00" r="1.80" fill="#fff" stroke="#20232c" stroke-width="1.00"/><path d="M697.80 1066.60L709.40 1054.60" stroke="#20232c" stroke-width="1.00" fill="none" /><path d="M703.20 1071.10L714.20 1060.00" stroke="#20232c" stroke-width="1.00" fill="none" /><circle cx="697.80" cy="1066.60" r="1.80" fill="#fff" stroke="#20232c" stroke-width="1.00"/><circle cx="709.40" cy="1054.60" r="1.80" fill="#fff" stroke="#20232c" stroke-width="1.00"/><circle cx="708.40" cy="1065.60" r="1.80" fill="#fff" stroke="#20232c" stroke-width="1.00"/><path d="M731 1053H748.3V1070.1H731z" stroke="#6a6d78" stroke-width="1.40" fill="none" /><path d="M739 1057V1070M731 1062H745" stroke="#6a6d78" stroke-width="1.30" fill="none" /><path d="M739 1055.4l-2 2.6h4zM746.6 1062l-2.6-2v4z" fill="#20232c"/><circle cx="731.00" cy="1070.10" r="1.80" fill="#fff" stroke="#20232c" stroke-width="1.00"/><circle cx="748.30" cy="1053.00" r="1.80" fill="#fff" stroke="#20232c" stroke-width="1.00"/><path d="M766.90 1069.20L780.50 1055.60" stroke="#20232c" stroke-width="1.00" fill="none" /><path d="M781 1055.2L774 1057.6L778.6 1062.2z" fill="#20232c"/><circle cx="766.90" cy="1069.20" r="1.80" fill="#fff" stroke="#20232c" stroke-width="1.00"/><circle cx="782.10" cy="1054.00" r="1.80" fill="#fff" stroke="#20232c" stroke-width="1.00"/><path d="M802.6 1062H819" stroke="#6a6d78" stroke-width="1.40" fill="none" /><circle cx="802.60" cy="1062.00" r="1.80" fill="#fff" stroke="#20232c" stroke-width="1.00"/><path d="M835.90 1066.60L842.40 1060.20L848.70 1066.60L855.10 1060.20" stroke="#20232c" stroke-width="1.00" fill="none" /><circle cx="835.90" cy="1066.60" r="1.80" fill="#fff" stroke="#20232c" stroke-width="1.00"/><circle cx="842.40" cy="1060.20" r="1.80" fill="#fff" stroke="#20232c" stroke-width="1.00"/><circle cx="848.70" cy="1066.60" r="1.80" fill="#fff" stroke="#20232c" stroke-width="1.00"/><circle cx="855.10" cy="1060.20" r="1.80" fill="#fff" stroke="#20232c" stroke-width="1.00"/><text x="842.2" y="1055.3" font-size="6.6" font-weight="bold" fill="#20232c" text-anchor="middle">1</text><text x="855.4" y="1055.3" font-size="6.6" font-weight="bold" fill="#20232c" text-anchor="middle">5</text><path d="M870.91 1066.60L877.41 1060.20L883.71 1066.60L890.11 1060.20" stroke="#20232c" stroke-width="1.00" fill="none" /><circle cx="870.91" cy="1066.60" r="1.80" fill="#fff" stroke="#20232c" stroke-width="1.00"/><circle cx="877.41" cy="1060.20" r="1.80" fill="#fff" stroke="#20232c" stroke-width="1.00"/><circle cx="883.71" cy="1066.60" r="1.80" fill="#fff" stroke="#20232c" stroke-width="1.00"/><circle cx="890.11" cy="1060.20" r="1.80" fill="#fff" stroke="#20232c" stroke-width="1.00"/><text x="877.2" y="1055.3" font-size="6.6" font-weight="bold" fill="#20232c" text-anchor="middle">A</text><text x="890.4" y="1055.3" font-size="6.6" font-weight="bold" fill="#20232c" text-anchor="middle">C</text><path d="M905.92 1066.60L912.42 1060.20L918.72 1066.60L925.12 1060.20" stroke="#20232c" stroke-width="1.00" fill="none" /><circle cx="905.92" cy="1066.60" r="1.80" fill="#fff" stroke="#20232c" stroke-width="1.00"/><circle cx="912.42" cy="1060.20" r="1.80" fill="#fff" stroke="#20232c" stroke-width="1.00"/><circle cx="918.72" cy="1066.60" r="1.80" fill="#fff" stroke="#20232c" stroke-width="1.00"/><circle cx="925.12" cy="1060.20" r="1.80" fill="#fff" stroke="#20232c" stroke-width="1.00"/><text x="912.2" y="1055.3" font-size="6.6" font-weight="bold" fill="#20232c" text-anchor="middle">A</text><text x="925.4" y="1055.3" font-size="6.6" font-weight="bold" fill="#20232c" text-anchor="middle">E</text><path d="M941.9 1054H960.7M941.9 1063.9H960.1M941.9 1070.1H960.7" stroke="#6a6d78" stroke-width="1.40" fill="none" /><path d="M951.1 1057.5V1067" stroke="#20232c" stroke-width="1.00" fill="none" /><path d="M951.1 1056l-1.8 2.4h3.6zM951.1 1068.4l-1.8-2.4h3.6z" fill="#20232c"/><circle cx="941.90" cy="1054.00" r="1.80" fill="#fff" stroke="#20232c" stroke-width="1.00"/><circle cx="941.90" cy="1063.90" r="1.80" fill="#fff" stroke="#20232c" stroke-width="1.00"/><circle cx="941.90" cy="1070.10" r="1.80" fill="#fff" stroke="#20232c" stroke-width="1.00"/><circle cx="960.10" cy="1063.90" r="1.80" fill="#fff" stroke="#20232c" stroke-width="1.00"/><path d="M975.4 1069.3Q979 1061.5 982.9 1060.1Q987 1059.2 988.3 1062.6Q988.8 1066.8 982.9 1069.3z" stroke="#6a6d78" stroke-width="1.20" fill="none" stroke-linejoin="round"/><path d="M989.1 1057.4Q988.6 1059.6 991.3 1060.6L997.8 1054.6" stroke="#6a6d78" stroke-width="1.10" fill="none" /><path d="M1013.80 1060.20L1021.20 1054.00L1028.40 1054.00L1028.40 1061.80L1021.20 1061.80L1021.20 1069.30L1013.80 1069.30L1013.80 1060.20" stroke="#20232c" stroke-width="1.00" fill="none" /><rect x="1012.10" y="1058.50" width="3.40" height="3.40" rx="1" fill="#fff" stroke="#20232c" stroke-width="1.00"/><rect x="1019.50" y="1052.30" width="3.40" height="3.40" rx="1" fill="#fff" stroke="#20232c" stroke-width="1.00"/><rect x="1026.70" y="1052.30" width="3.40" height="3.40" rx="1" fill="#fff" stroke="#20232c" stroke-width="1.00"/><rect x="1026.70" y="1060.10" width="3.40" height="3.40" rx="1" fill="#fff" stroke="#20232c" stroke-width="1.00"/><rect x="1019.50" y="1060.10" width="3.40" height="3.40" rx="1" fill="#fff" stroke="#20232c" stroke-width="1.00"/><rect x="1019.50" y="1067.60" width="3.40" height="3.40" rx="1" fill="#fff" stroke="#20232c" stroke-width="1.00"/><rect x="1012.10" y="1067.60" width="3.40" height="3.40" rx="1" fill="#fff" stroke="#20232c" stroke-width="1.00"/>
</g>
</svg></body></html>
